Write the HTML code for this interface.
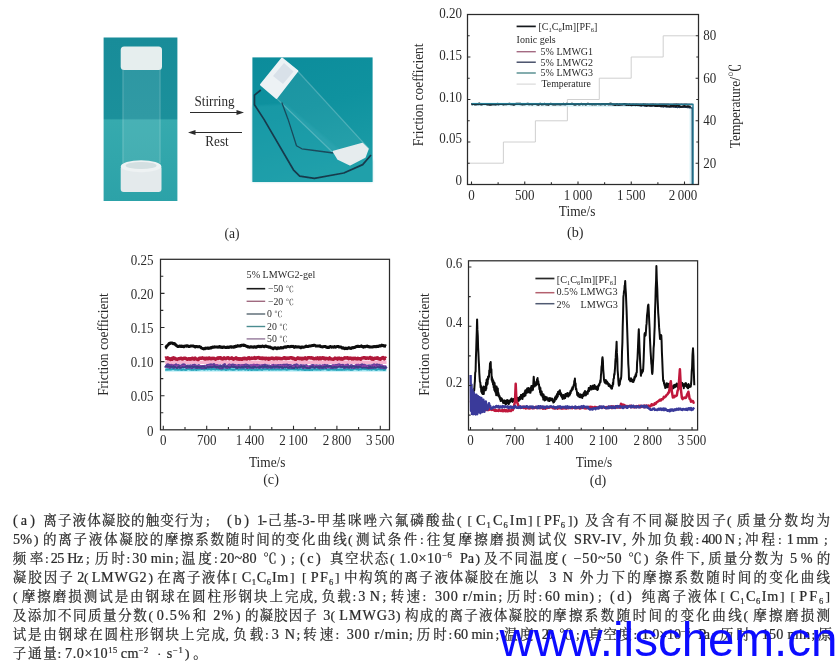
<!DOCTYPE html>
<html lang="zh"><head><meta charset="utf-8"><title>figure</title>
<style>html,body{margin:0;padding:0;background:#fff}svg{display:block;filter:blur(0.35px)}</style></head>
<body>
<svg width="840" height="666" viewBox="0 0 840 666" font-family='"Liberation Serif","Noto Serif CJK SC",serif'>
<defs>
<linearGradient id="g1" x1="0" y1="0" x2="0" y2="1"><stop offset="0" stop-color="#188c99"/><stop offset="0.495" stop-color="#1b909b"/><stop offset="0.505" stop-color="#36aaae"/><stop offset="1" stop-color="#2ca2a8"/></linearGradient>
<linearGradient id="g2" x1="0" y1="0" x2="0.3" y2="1"><stop offset="0" stop-color="#0c8c9b"/><stop offset="0.5" stop-color="#0f929f"/><stop offset="1" stop-color="#1b9ca6"/></linearGradient>
<filter id="b1"><feGaussianBlur stdDeviation="1.2"/></filter>
<filter id="b2"><feGaussianBlur stdDeviation="0.7"/></filter>
<filter id="b3"><feGaussianBlur stdDeviation="0.4"/></filter>
</defs>
<rect width="840" height="666" fill="#fff"/>
<g id="photoA">
<rect x="103.6" y="37.5" width="73.8" height="163.5" fill="url(#g1)"/>
<rect x="122.5" y="68" width="38" height="98" fill="#ffffff" opacity="0.09" filter="url(#b2)"/>
<rect x="122" y="68" width="2" height="95" fill="#ffffff" opacity="0.10"/>
<rect x="159" y="68" width="2" height="95" fill="#ffffff" opacity="0.10"/>
<rect x="120.7" y="46.5" width="41.3" height="23.5" rx="3.5" fill="#e6eeee" filter="url(#b2)"/>
<rect x="120.7" y="165.5" width="40.8" height="26.5" rx="3" fill="#e4eaec" filter="url(#b2)"/>
<ellipse cx="141.1" cy="166.2" rx="20.2" ry="6" fill="#eef2f3" filter="url(#b2)"/>
<ellipse cx="141.1" cy="165.5" rx="15.5" ry="3.6" fill="#d3dfe1" filter="url(#b2)"/>
</g>
<text transform="translate(214.5,106) scale(0.92,1)" font-size="14.3" text-anchor="middle" fill="#2a2a2a" >Stirring</text>
<line x1="190" y1="112.5" x2="238" y2="112.5" stroke="#2b2b2b" stroke-width="1"/>
<path d="M244,112.5 L236.5,110 L236.5,115 Z" fill="#2b2b2b"/>
<line x1="194" y1="132.5" x2="242" y2="132.5" stroke="#2b2b2b" stroke-width="1"/>
<path d="M188,132.5 L195.5,130 L195.5,135 Z" fill="#2b2b2b"/>
<text transform="translate(217,146) scale(0.92,1)" font-size="14.3" text-anchor="middle" fill="#2a2a2a" >Rest</text>
<g id="photoB">
<rect x="252.4" y="57.4" width="120.2" height="124.6" fill="url(#g2)"/>
<path d="M252.4,106 L285,104 L340,150 L372.6,160 L372.6,182 L252.4,182 Z" fill="#2aa8b4" opacity="0.35" filter="url(#b1)"/>
<path d="M276.5,98.4 L297.6,71 L369,148.8 L333.3,153 Z" fill="#ffffff" opacity="0.06"/>
<path d="M276.5,98.4 L333.3,153" stroke="#ffffff" stroke-width="1.2" opacity="0.22" fill="none"/>
<path d="M297.6,71 L369,148.8" stroke="#ffffff" stroke-width="1.2" opacity="0.22" fill="none"/>
<path d="M260.8,90 L254.5,95.2 L254.5,104.7 L264,119.4 L293.4,169.8 L299.7,176.2 L314.4,178.3 L343.8,173 L362.7,164.6 L371,155" stroke="#173a4c" stroke-width="1.7" fill="none" stroke-linejoin="round" filter="url(#b3)"/>
<path d="M281.8,102.6 L288.1,119.4 L296.5,145.7 L301.8,148.8 L314.4,150.5 L333.3,153" stroke="#1a4a5c" stroke-width="1.3" fill="none" stroke-linejoin="round" filter="url(#b3)"/>
<path d="M282,58.6 L297.4,71 L276.5,98 L261,84.7 Z" fill="#edf2f5" stroke="#edf2f5" stroke-width="2" stroke-linejoin="round" filter="url(#b2)"/>
<path d="M284,63 L293.5,71.5 L283,84 L273,76 Z" fill="#cdd6e2" opacity="0.6" filter="url(#b2)"/>
<path d="M333.5,151.5 L362.5,143.5 L368,149 L365,157 L350,164.8 L338,159 Z" fill="#e6ecee" stroke="#e6ecee" stroke-width="1.5" stroke-linejoin="round" filter="url(#b2)"/>
</g>
<text x="232" y="238" font-size="13.6" text-anchor="middle" fill="#2a2a2a" >(a)</text>
<g id="chartB">
<path d="M467.5,163.2 L503.4,163.2 L503.4,142.0 L535.4,142.0 L535.4,120.8 L567.4,120.8 L567.4,99.5 L599.3,99.5 L599.3,78.2 L631.2,78.2 L631.2,57.0 L663.2,57.0 L663.2,35.8 L695.0,35.8" fill="none" stroke="#cbcbcb" stroke-width="0.9" stroke-linejoin="round" />
<path d="M471.5,104.2 L691.4,105.5 L691.4,184.5" fill="none" stroke="#c6edf5" stroke-width="3.6" stroke-linejoin="round" opacity="0.75"/>
<path d="M471.5,103.8 L472.3,103.7 L473.1,103.9 L473.9,103.7 L474.7,103.8 L475.5,103.8 L476.3,103.7 L477.1,103.8 L477.9,103.7 L478.7,103.8 L479.5,103.7 L480.3,103.7 L481.1,103.8 L481.9,104.0 L482.7,103.8 L483.5,103.8 L484.3,103.9 L485.1,104.1 L485.9,104.1 L486.7,104.0 L487.5,104.1 L488.3,103.9 L489.1,104.1 L489.9,103.9 L490.7,103.8 L491.5,103.7 L492.3,103.8 L493.1,104.0 L493.9,103.9 L494.7,103.9 L495.5,104.0 L496.3,103.9 L497.1,104.0 L497.9,103.8 L498.7,103.7 L499.5,103.7 L500.3,103.9 L501.1,103.9 L501.9,103.9 L502.7,104.0 L503.5,104.0 L504.3,103.9 L505.1,104.1 L505.9,104.1 L506.7,103.9 L507.5,104.0 L508.3,104.0 L509.1,104.2 L509.9,104.2 L510.7,104.0 L511.5,104.2 L512.3,103.9 L513.1,103.9 L513.9,104.1 L514.7,103.9 L515.5,104.0 L516.3,103.8 L517.1,104.0 L517.9,104.1 L518.7,104.1 L519.5,104.2 L520.3,104.0 L521.1,104.1 L521.9,104.1 L522.7,104.1 L523.5,104.0 L524.3,104.2 L525.1,104.3 L525.9,104.1 L526.7,104.2 L527.5,103.9 L528.3,104.1 L529.1,104.1 L529.9,104.3 L530.7,104.3 L531.5,104.1 L532.3,104.0 L533.1,104.1 L533.9,103.9 L534.7,103.9 L535.5,103.9 L536.3,103.8 L537.1,103.8 L537.9,104.0 L538.7,103.9 L539.5,103.9 L540.3,103.9 L541.1,104.1 L541.9,103.9 L542.7,104.0 L543.5,104.0 L544.3,104.2 L545.1,104.3 L545.9,104.3 L546.7,104.1 L547.5,104.1 L548.3,104.0 L549.1,104.2 L549.9,104.3 L550.7,104.1 L551.5,103.9 L552.3,103.9 L553.1,103.9 L553.9,104.0 L554.7,104.1 L555.5,104.0 L556.3,103.8 L557.1,103.9 L557.9,104.0 L558.7,104.1 L559.5,104.3 L560.3,104.3 L561.1,104.2 L561.9,104.2 L562.7,104.2 L563.5,104.0 L564.3,104.2 L565.1,104.3 L565.9,104.3 L566.7,104.3 L567.5,104.2 L568.3,104.1 L569.1,104.0 L569.9,104.1 L570.7,103.9 L571.5,103.9 L572.3,103.9 L573.1,103.9 L573.9,103.9 L574.7,103.9 L575.5,103.8 L576.3,103.8 L577.1,103.8 L577.9,103.9 L578.7,103.8 L579.5,104.1 L580.3,104.2 L581.1,104.0 L581.9,104.0 L582.7,104.0 L583.5,104.0 L584.3,103.9 L585.1,104.2 L585.9,104.4 L586.7,104.2 L587.5,104.2 L588.3,104.0 L589.1,103.9 L589.9,104.0 L590.7,104.0 L591.5,104.2 L592.3,104.0 L593.1,103.9 L593.9,104.2 L594.7,104.2 L595.5,104.0 L596.3,104.1 L597.1,104.0 L597.9,104.1 L598.7,104.3 L599.5,104.4 L600.3,104.4 L601.1,104.2 L601.9,104.1 L602.7,104.0 L603.5,104.2 L604.3,104.2 L605.1,104.3 L605.9,104.2 L606.7,104.1 L607.5,104.3 L608.3,104.4 L609.1,104.5 L609.9,104.4 L610.7,104.5 L611.5,104.4 L612.3,104.2 L613.1,104.2 L613.9,104.2 L614.7,104.0 L615.5,103.9 L616.3,104.0 L617.1,104.0 L617.9,104.2 L618.7,104.4 L619.5,104.3 L620.3,104.4 L621.1,104.5 L621.9,104.6 L622.7,104.3 L623.5,104.2 L624.3,104.1 L625.1,104.0 L625.9,104.0 L626.7,104.2 L627.5,104.4 L628.3,104.4 L629.1,104.3 L629.9,104.3 L630.7,104.4 L631.5,104.2 L632.3,104.3 L633.1,104.4 L633.9,104.4 L634.7,104.4 L635.5,104.3 L636.3,104.2 L637.1,104.3 L637.9,104.2 L638.7,104.4 L639.5,104.5 L640.3,104.3 L641.1,104.3 L641.9,104.4 L642.7,104.4 L643.5,104.2 L644.3,104.1 L645.1,104.0 L645.9,104.3 L646.7,104.4 L647.5,104.2 L648.3,104.4 L649.1,104.5 L649.9,104.5 L650.7,104.3 L651.5,104.3 L652.3,104.2 L653.1,104.0 L653.9,104.3 L654.7,104.4 L655.5,104.3 L656.3,104.5 L657.1,104.4 L657.9,104.5 L658.7,104.5 L659.5,104.3 L660.3,104.2 L661.1,104.2 L661.9,104.1 L662.7,104.3 L663.5,104.2 L664.3,104.2 L665.1,104.1 L665.9,104.4 L666.7,104.3 L667.5,104.3 L668.3,104.3 L669.1,104.5 L669.9,104.4 L670.7,104.5 L671.5,104.4 L672.3,104.4 L673.1,104.4 L673.9,104.2 L674.7,104.2 L675.5,104.1 L676.3,104.0 L677.1,104.3 L677.9,104.2 L678.7,104.3 L679.5,104.4 L680.3,104.4 L681.1,104.3 L681.9,104.3 L682.7,104.4 L683.5,104.5 L684.3,104.2 L685.1,104.3 L685.9,104.2 L686.7,104.2 L687.5,104.4 L688.3,104.4 L689.1,104.4 L689.9,104.5 L690.7,104.6 L691.5,104.5 L692.3,104.5" fill="none" stroke="#8a2a3a" stroke-width="1.4" stroke-linejoin="round" />
<path d="M471.5,104.2 L472.3,104.2 L473.1,104.3 L473.9,104.2 L474.7,104.2 L475.5,104.2 L476.3,104.4 L477.1,104.4 L477.9,104.5 L478.7,104.6 L479.5,104.3 L480.3,104.2 L481.1,104.5 L481.9,104.5 L482.7,104.1 L483.5,103.9 L484.3,104.0 L485.1,103.8 L485.9,103.9 L486.7,103.8 L487.5,104.1 L488.3,104.3 L489.1,104.5 L489.9,104.1 L490.7,104.3 L491.5,104.3 L492.3,104.0 L493.1,104.3 L493.9,104.5 L494.7,104.2 L495.5,104.5 L496.3,104.3 L497.1,104.2 L497.9,104.5 L498.7,104.5 L499.5,104.1 L500.3,104.1 L501.1,104.2 L501.9,104.1 L502.7,103.9 L503.5,103.9 L504.3,104.2 L505.1,103.9 L505.9,104.1 L506.7,104.1 L507.5,103.8 L508.3,103.9 L509.1,104.1 L509.9,104.2 L510.7,103.9 L511.5,104.3 L512.3,104.4 L513.1,104.6 L513.9,104.1 L514.7,104.0 L515.5,103.8 L516.3,104.2 L517.1,104.0 L517.9,103.9 L518.7,104.0 L519.5,104.3 L520.3,104.4 L521.1,104.2 L521.9,104.0 L522.7,104.3 L523.5,104.3 L524.3,104.4 L525.1,104.0 L525.9,103.8 L526.7,104.1 L527.5,104.1 L528.3,103.9 L529.1,104.3 L529.9,104.3 L530.7,104.4 L531.5,104.1 L532.3,104.3 L533.1,104.0 L533.9,104.3 L534.7,104.2 L535.5,104.1 L536.3,104.2 L537.1,104.4 L537.9,104.2 L538.7,103.9 L539.5,104.1 L540.3,104.0 L541.1,103.8 L541.9,103.8 L542.7,103.7 L543.5,103.8 L544.3,103.9 L545.1,103.9 L545.9,104.2 L546.7,104.1 L547.5,104.1 L548.3,104.0 L549.1,104.0 L549.9,103.8 L550.7,103.8 L551.5,103.7 L552.3,104.1 L553.1,104.2 L553.9,104.0 L554.7,104.1 L555.5,104.4 L556.3,104.0 L557.1,104.3 L557.9,104.2 L558.7,104.2 L559.5,104.4 L560.3,104.2 L561.1,104.2 L561.9,104.3 L562.7,104.5 L563.5,104.3 L564.3,104.4 L565.1,104.4 L565.9,104.4 L566.7,104.2 L567.5,104.1 L568.3,103.9 L569.1,103.8 L569.9,103.7 L570.7,104.1 L571.5,104.0 L572.3,103.9 L573.1,103.8 L573.9,104.2 L574.7,104.4 L575.5,104.4 L576.3,104.2 L577.1,104.0 L577.9,104.0 L578.7,104.0 L579.5,103.9 L580.3,104.0 L581.1,103.9 L581.9,104.3 L582.7,104.5 L583.5,104.4 L584.3,104.1 L585.1,104.4 L585.9,104.2 L586.7,104.1 L587.5,103.8 L588.3,103.9 L589.1,104.0 L589.9,104.1 L590.7,104.0 L591.5,104.1 L592.3,103.8 L593.1,103.9 L593.9,103.8 L594.7,103.9 L595.5,103.8 L596.3,103.7 L597.1,103.8 L597.9,103.8 L598.7,104.1 L599.5,104.1 L600.3,104.3 L601.1,104.3 L601.9,104.4 L602.7,104.5 L603.5,104.3 L604.3,104.1 L605.1,104.4 L605.9,104.1 L606.7,104.3 L607.5,104.3 L608.3,104.0 L609.1,104.3 L609.9,104.5 L610.7,104.4 L611.5,104.5 L612.3,104.6 L613.1,104.3 L613.9,104.3 L614.7,104.4 L615.5,104.6 L616.3,104.7 L617.1,104.8 L617.9,104.7 L618.7,104.9 L619.5,104.9 L620.3,104.9 L621.1,104.6 L621.9,104.4 L622.7,104.4 L623.5,104.5 L624.3,104.4 L625.1,104.9 L625.9,104.9 L626.7,105.0 L627.5,105.1 L628.3,105.1 L629.1,105.1 L629.9,104.8 L630.7,105.1 L631.5,105.3 L632.3,105.2 L633.1,105.3 L633.9,105.3 L634.7,105.1 L635.5,105.3 L636.3,105.2 L637.1,105.0 L637.9,105.1 L638.7,105.4 L639.5,105.3 L640.3,105.6 L641.1,105.8 L641.9,105.7 L642.7,105.6 L643.5,105.6 L644.3,105.8 L645.1,105.9 L645.9,105.9 L646.7,106.0 L647.5,105.6 L648.3,105.6 L649.1,105.6 L649.9,105.9 L650.7,105.8 L651.5,106.0 L652.3,105.7 L653.1,105.6 L653.9,105.7 L654.7,106.1 L655.5,106.2 L656.3,106.3 L657.1,106.2 L657.9,106.2 L658.7,106.3 L659.5,106.3 L660.3,106.1 L661.1,106.5 L661.9,106.3 L662.7,106.7 L663.5,106.9 L664.3,106.4 L665.1,106.5 L665.9,106.8 L666.7,107.0 L667.5,106.8 L668.3,106.7 L669.1,106.5 L669.9,107.0 L670.7,106.7 L671.5,106.9 L672.3,106.7 L673.1,106.8 L673.9,107.2 L674.7,106.9 L675.5,107.2 L676.3,107.1 L677.1,107.4 L677.9,107.4 L678.7,107.1 L679.5,107.4 L680.3,107.3 L681.1,107.0 L681.9,106.9 L682.7,107.1 L683.5,107.2 L684.3,107.2 L685.1,107.1 L685.9,107.2 L686.7,107.3 L687.5,107.6 L688.3,107.3 L689.1,107.6 L689.9,107.9 L690.7,107.6 L691.5,107.9 L692.3,108.0 L692.4,184.5" fill="none" stroke="#27405f" stroke-width="1.5" stroke-linejoin="round" />
<path d="M471.5,104.5 L472.3,104.2 L473.1,104.1 L473.9,104.0 L474.7,104.5 L475.5,104.4 L476.3,104.2 L477.1,104.1 L477.9,104.0 L478.7,103.7 L479.5,103.6 L480.3,104.2 L481.1,104.0 L481.9,104.4 L482.7,104.1 L483.5,104.0 L484.3,104.1 L485.1,103.9 L485.9,103.9 L486.7,104.4 L487.5,104.6 L488.3,104.6 L489.1,104.5 L489.9,104.7 L490.7,104.8 L491.5,104.5 L492.3,104.5 L493.1,104.0 L493.9,104.3 L494.7,104.2 L495.5,104.4 L496.3,104.4 L497.1,104.1 L497.9,103.8 L498.7,104.3 L499.5,103.9 L500.3,104.0 L501.1,104.0 L501.9,103.9 L502.7,104.2 L503.5,104.6 L504.3,104.2 L505.1,104.3 L505.9,104.1 L506.7,104.2 L507.5,104.1 L508.3,103.9 L509.1,103.8 L509.9,103.7 L510.7,104.3 L511.5,104.2 L512.3,104.0 L513.1,104.4 L513.9,104.7 L514.7,104.4 L515.5,104.0 L516.3,103.8 L517.1,103.7 L517.9,103.8 L518.7,103.7 L519.5,103.7 L520.3,103.7 L521.1,104.0 L521.9,104.4 L522.7,104.5 L523.5,104.3 L524.3,104.2 L525.1,104.2 L525.9,104.1 L526.7,104.0 L527.5,103.7 L528.3,103.8 L529.1,104.4 L529.9,104.0 L530.7,104.1 L531.5,104.2 L532.3,104.5 L533.1,104.1 L533.9,104.0 L534.7,103.9 L535.5,103.9 L536.3,104.0 L537.1,104.5 L537.9,104.6 L538.7,104.7 L539.5,104.0 L540.3,103.7 L541.1,104.1 L541.9,104.5 L542.7,104.3 L543.5,104.3 L544.3,103.8 L545.1,103.9 L545.9,104.4 L546.7,104.5 L547.5,104.6 L548.3,104.8 L549.1,104.3 L549.9,103.9 L550.7,103.8 L551.5,104.0 L552.3,104.2 L553.1,104.6 L553.9,104.5 L554.7,104.5 L555.5,104.5 L556.3,104.3 L557.1,104.3 L557.9,103.9 L558.7,104.2 L559.5,104.0 L560.3,104.4 L561.1,104.4 L561.9,104.1 L562.7,103.9 L563.5,103.8 L564.3,104.1 L565.1,104.3 L565.9,103.9 L566.7,103.7 L567.5,104.0 L568.3,104.1 L569.1,104.1 L569.9,103.9 L570.7,104.1 L571.5,103.8 L572.3,103.8 L573.1,104.0 L573.9,104.4 L574.7,104.4 L575.5,104.6 L576.3,104.4 L577.1,104.1 L577.9,103.9 L578.7,104.4 L579.5,104.5 L580.3,104.2 L581.1,103.8 L581.9,104.0 L582.7,104.2 L583.5,104.1 L584.3,104.0 L585.1,104.2 L585.9,104.5 L586.7,104.1 L587.5,103.8 L588.3,103.8 L589.1,103.9 L589.9,104.2 L590.7,103.9 L591.5,104.3 L592.3,104.4 L593.1,104.3 L593.9,104.0 L594.7,104.5 L595.5,104.2 L596.3,104.4 L597.1,104.1 L597.9,103.9 L598.7,104.2 L599.5,104.0 L600.3,104.5 L601.1,104.3 L601.9,104.0 L602.7,103.9 L603.5,104.0 L604.3,104.2 L605.1,104.5 L605.9,104.1 L606.7,104.0 L607.5,103.9 L608.3,104.4 L609.1,104.0 L609.9,103.7 L610.7,103.6 L611.5,103.8 L612.3,104.4 L613.1,104.6 L613.9,104.7 L614.7,104.9 L615.5,105.0 L616.3,104.5 L617.1,104.2 L617.9,104.7 L618.7,104.8 L619.5,104.3 L620.3,104.5 L621.1,104.4 L621.9,104.4 L622.7,104.4 L623.5,104.2 L624.3,104.0 L625.1,104.2 L625.9,104.3 L626.7,104.9 L627.5,104.5 L628.3,105.0 L629.1,104.6 L629.9,104.6 L630.7,105.0 L631.5,105.2 L632.3,105.0 L633.1,104.6 L633.9,104.7 L634.7,104.7 L635.5,105.2 L636.3,104.8 L637.1,104.8 L637.9,105.2 L638.7,104.8 L639.5,104.9 L640.3,105.2 L641.1,105.4 L641.9,104.9 L642.7,104.7 L643.5,104.6 L644.3,105.2 L645.1,105.1 L645.9,105.4 L646.7,105.7 L647.5,105.4 L648.3,105.2 L649.1,105.6 L649.9,105.6 L650.7,105.3 L651.5,105.6 L652.3,105.4 L653.1,105.3 L653.9,105.0 L654.7,105.5 L655.5,105.9 L656.3,105.8 L657.1,106.1 L657.9,105.5 L658.7,105.4 L659.5,105.5 L660.3,106.0 L661.1,106.2 L661.9,105.9 L662.7,105.6 L663.5,105.7 L664.3,105.7 L665.1,106.1 L665.9,105.8 L666.7,106.1 L667.5,106.2 L668.3,106.3 L669.1,106.4 L669.9,106.3 L670.7,106.0 L671.5,105.9 L672.3,105.9 L673.1,106.2 L673.9,105.8 L674.7,105.7 L675.5,106.2 L676.3,106.0 L677.1,105.7 L677.9,105.6 L678.7,106.0 L679.5,106.0 L680.3,106.5 L681.1,106.7 L681.9,106.9 L682.7,106.5 L683.5,106.1 L684.3,105.9 L685.1,106.2 L685.9,106.5 L686.7,106.5 L687.5,106.3 L688.3,106.3 L689.1,106.6 L689.9,106.7 L690.7,106.9" fill="none" stroke="#15181c" stroke-width="2.0" stroke-linejoin="round" />
<path d="M471.5,103.6 L693.0,104.2 L693.0,184.5" fill="none" stroke="#237a92" stroke-width="1.4" stroke-linejoin="round" />
<rect x="467.5" y="14.5" width="231.0" height="170.0" fill="none" stroke="#2b2b2b" stroke-width="1.25"/>
<path d="M471.50,184.5V181.60M524.75,184.5V181.60M578.00,184.5V181.60M631.25,184.5V181.60M684.50,184.5V181.60M498.12,184.5V182.30M551.38,184.5V182.30M604.62,184.5V182.30M657.88,184.5V182.30M467.5,142.00H470.40M467.5,99.50H470.40M467.5,57.00H470.40M467.5,14.50H470.40M467.5,163.25H469.70M467.5,120.75H469.70M467.5,78.25H469.70M467.5,35.75H469.70M698.5,163.25H695.60M698.5,120.75H695.60M698.5,78.25H695.60M698.5,35.75H695.60M698.5,142.00H696.30M698.5,99.50H696.30M698.5,57.00H696.30" stroke="#2b2b2b" stroke-width="1.1" fill="none"/>
<text transform="translate(462,184.9) scale(0.93,1)" font-size="14.0" text-anchor="end" fill="#2a2a2a" >0</text>
<text transform="translate(462,143.2) scale(0.93,1)" font-size="14.0" text-anchor="end" fill="#2a2a2a" >0.05</text>
<text transform="translate(462,101.5) scale(0.93,1)" font-size="14.0" text-anchor="end" fill="#2a2a2a" >0.10</text>
<text transform="translate(462,59.8) scale(0.93,1)" font-size="14.0" text-anchor="end" fill="#2a2a2a" >0.15</text>
<text transform="translate(462,18.1) scale(0.93,1)" font-size="14.0" text-anchor="end" fill="#2a2a2a" >0.20</text>
<text transform="translate(471.5,199.8) scale(0.93,1)" font-size="14.0" text-anchor="middle" fill="#2a2a2a" word-spacing="-0.8">0</text>
<text transform="translate(524.75,199.8) scale(0.93,1)" font-size="14.0" text-anchor="middle" fill="#2a2a2a" word-spacing="-0.8">500</text>
<text transform="translate(578.0,199.8) scale(0.93,1)" font-size="14.0" text-anchor="middle" fill="#2a2a2a" word-spacing="-0.8">1 000</text>
<text transform="translate(631.25,199.8) scale(0.93,1)" font-size="14.0" text-anchor="middle" fill="#2a2a2a" word-spacing="-0.8">1 500</text>
<text transform="translate(683.0,199.8) scale(0.93,1)" font-size="14.0" text-anchor="middle" fill="#2a2a2a" word-spacing="-0.8">2 000</text>
<text transform="translate(703.2,167.85) scale(0.93,1)" font-size="14.0" text-anchor="start" fill="#2a2a2a" >20</text>
<text transform="translate(703.2,125.35) scale(0.93,1)" font-size="14.0" text-anchor="start" fill="#2a2a2a" >40</text>
<text transform="translate(703.2,82.85) scale(0.93,1)" font-size="14.0" text-anchor="start" fill="#2a2a2a" >60</text>
<text transform="translate(703.2,40.35) scale(0.93,1)" font-size="14.0" text-anchor="start" fill="#2a2a2a" >80</text>
<text transform="translate(423,94.8) rotate(-90) scale(0.93,1)" font-size="14.4" text-anchor="middle" fill="#2a2a2a">Friction coefficient</text>
<text transform="translate(740,106) rotate(-90) scale(0.93,1)" font-size="14.4" text-anchor="middle" fill="#2a2a2a">Temperature/℃</text>
<text transform="translate(577.1,216.3) scale(0.92,1)" font-size="14.5" text-anchor="middle" fill="#2a2a2a" >Time/s</text>
<text x="575.2" y="237" font-size="14.2" text-anchor="middle" fill="#2a2a2a" >(b)</text>
<line x1="516.6" y1="26.4" x2="535.8" y2="26.4" stroke="#15181c" stroke-width="1.7"/>
<text x="538.5" y="29.7" font-size="10" text-anchor="start" fill="#2a2a2a" >[C<tspan font-size="6.5" dy="2">1</tspan><tspan dy="-2" font-size="0.1"> </tspan>C<tspan font-size="6.5" dy="2">6</tspan><tspan dy="-2" font-size="0.1"> </tspan>Im][PF<tspan font-size="6.5" dy="2">6</tspan><tspan dy="-2" font-size="0.1"> </tspan>]</text>
<text x="516.6" y="42.6" font-size="10" text-anchor="start" fill="#2a2a2a" >Ionic gels</text>
<line x1="516.6" y1="51.7" x2="535.8" y2="51.7" stroke="#a46a82" stroke-width="1.4"/>
<text x="540.6" y="55.3" font-size="10" text-anchor="start" fill="#2a2a2a" >5% LMWG1</text>
<line x1="516.6" y1="62.2" x2="535.8" y2="62.2" stroke="#3c4560" stroke-width="1.4"/>
<text x="540.6" y="65.6" font-size="10" text-anchor="start" fill="#2a2a2a" >5% LMWG2</text>
<line x1="516.6" y1="73" x2="535.8" y2="73" stroke="#4f8a8c" stroke-width="1.4"/>
<text x="540.6" y="76.3" font-size="10" text-anchor="start" fill="#2a2a2a" >5% LMWG3</text>
<line x1="516.6" y1="84.1" x2="535.8" y2="84.1" stroke="#d2d2d2" stroke-width="1"/>
<text x="541.5" y="86.7" font-size="9.8" text-anchor="start" fill="#2a2a2a" >Temperature</text>
</g>
<g id="chartC">
<path d="M165.2,369.8 L386.5,369.8" fill="none" stroke="#9fe6f2" stroke-width="3.5" stroke-linejoin="round" />
<path d="M165.2,369.8 L166.0,369.8 L166.8,369.2 L167.6,369.7 L168.4,369.3 L169.2,369.4 L170.0,369.3 L170.8,369.6 L171.6,369.2 L172.4,369.1 L173.2,369.0 L174.0,368.9 L174.8,369.5 L175.6,369.6 L176.4,369.3 L177.2,369.3 L178.0,369.8 L178.8,369.6 L179.6,369.3 L180.4,369.7 L181.2,369.7 L182.0,370.0 L182.8,369.3 L183.6,369.4 L184.4,369.7 L185.2,369.9 L186.0,370.1 L186.8,369.3 L187.6,369.2 L188.4,368.9 L189.2,368.9 L190.0,369.6 L190.8,369.6 L191.6,369.9 L192.4,369.6 L193.2,369.9 L194.0,369.6 L194.8,369.3 L195.6,369.6 L196.4,370.0 L197.2,369.3 L198.0,369.5 L198.8,369.6 L199.6,369.2 L200.4,369.2 L201.2,368.9 L202.0,368.9 L202.8,368.9 L203.6,369.3 L204.4,369.5 L205.2,369.2 L206.0,368.8 L206.8,368.9 L207.6,369.4 L208.4,369.1 L209.2,369.1 L210.0,368.9 L210.8,369.5 L211.6,369.5 L212.4,369.0 L213.2,368.8 L214.0,369.0 L214.8,369.3 L215.6,369.5 L216.4,369.0 L217.2,368.9 L218.0,369.4 L218.8,369.3 L219.6,369.1 L220.4,369.1 L221.2,369.7 L222.0,369.4 L222.8,369.5 L223.6,369.3 L224.4,369.3 L225.2,369.7 L226.0,370.1 L226.8,369.6 L227.6,369.2 L228.4,369.5 L229.2,369.2 L230.0,368.8 L230.8,369.5 L231.6,369.4 L232.4,369.7 L233.2,369.5 L234.0,369.8 L234.8,369.6 L235.6,369.2 L236.4,368.8 L237.2,369.2 L238.0,369.4 L238.8,369.8 L239.6,369.2 L240.4,369.4 L241.2,369.3 L242.0,369.4 L242.8,369.0 L243.6,369.0 L244.4,369.2 L245.2,369.8 L246.0,369.2 L246.8,369.3 L247.6,369.7 L248.4,370.0 L249.2,369.4 L250.0,369.0 L250.8,369.7 L251.6,370.0 L252.4,369.7 L253.2,369.1 L254.0,369.7 L254.8,369.5 L255.6,369.8 L256.4,369.8 L257.2,369.9 L258.0,369.3 L258.8,369.7 L259.6,369.3 L260.4,369.3 L261.2,369.7 L262.0,369.9 L262.8,369.3 L263.6,369.1 L264.4,369.2 L265.2,369.3 L266.0,369.3 L266.8,369.0 L267.6,368.9 L268.4,369.4 L269.2,369.8 L270.0,369.2 L270.8,369.4 L271.6,369.6 L272.4,369.1 L273.2,369.6 L274.0,369.1 L274.8,369.4 L275.6,369.4 L276.4,369.6 L277.2,369.3 L278.0,369.3 L278.8,369.4 L279.6,369.4 L280.4,369.5 L281.2,369.4 L282.0,369.4 L282.8,368.9 L283.6,369.3 L284.4,369.3 L285.2,369.1 L286.0,369.5 L286.8,369.8 L287.6,369.6 L288.4,369.2 L289.2,369.3 L290.0,369.0 L290.8,368.8 L291.6,369.1 L292.4,368.8 L293.2,369.1 L294.0,369.3 L294.8,368.9 L295.6,369.3 L296.4,368.9 L297.2,369.4 L298.0,369.7 L298.8,369.6 L299.6,369.1 L300.4,369.2 L301.2,369.2 L302.0,369.8 L302.8,369.2 L303.6,369.7 L304.4,370.1 L305.2,370.0 L306.0,370.0 L306.8,369.4 L307.6,369.9 L308.4,369.7 L309.2,370.0 L310.0,370.1 L310.8,369.4 L311.6,369.7 L312.4,370.0 L313.2,369.3 L314.0,369.2 L314.8,369.6 L315.6,369.2 L316.4,369.7 L317.2,369.3 L318.0,369.7 L318.8,369.2 L319.6,369.3 L320.4,369.8 L321.2,369.3 L322.0,369.1 L322.8,369.3 L323.6,369.2 L324.4,368.8 L325.2,368.8 L326.0,368.8 L326.8,369.5 L327.6,369.7 L328.4,369.9 L329.2,369.4 L330.0,369.7 L330.8,369.2 L331.6,369.3 L332.4,369.5 L333.2,369.3 L334.0,369.7 L334.8,369.6 L335.6,369.6 L336.4,369.9 L337.2,369.3 L338.0,369.8 L338.8,369.8 L339.6,369.5 L340.4,369.8 L341.2,369.4 L342.0,369.9 L342.8,369.7 L343.6,369.4 L344.4,369.7 L345.2,369.5 L346.0,369.1 L346.8,369.5 L347.6,369.0 L348.4,369.5 L349.2,369.2 L350.0,369.5 L350.8,369.9 L351.6,369.8 L352.4,369.8 L353.2,369.4 L354.0,368.9 L354.8,368.7 L355.6,368.7 L356.4,369.2 L357.2,369.2 L358.0,369.3 L358.8,369.8 L359.6,369.2 L360.4,369.1 L361.2,369.4 L362.0,368.9 L362.8,368.7 L363.6,368.9 L364.4,368.8 L365.2,369.0 L366.0,368.9 L366.8,369.3 L367.6,369.4 L368.4,369.1 L369.2,369.4 L370.0,369.4 L370.8,369.0 L371.6,369.7 L372.4,369.3 L373.2,369.0 L374.0,368.8 L374.8,369.3 L375.6,369.7 L376.4,369.9 L377.2,369.5 L378.0,369.2 L378.8,368.8 L379.6,369.3 L380.4,369.4 L381.2,369.3 L382.0,369.5 L382.8,369.4 L383.6,369.9 L384.4,369.9 L385.2,369.4 L386.0,369.8" fill="none" stroke="#27a3b8" stroke-width="2" stroke-linejoin="round" />
<path d="M165.2,362.3 L386.5,362.3" fill="none" stroke="#f7b3cf" stroke-width="3.5" stroke-linejoin="round" />
<path d="M165.2,365.5 L165.8,366.0 L166.4,366.0 L167.0,365.7 L167.6,365.2 L168.2,366.3 L168.8,365.4 L169.4,366.0 L170.0,367.0 L170.6,366.0 L171.2,365.6 L171.8,366.2 L172.4,366.3 L173.0,366.6 L173.6,367.0 L174.2,366.1 L174.8,365.9 L175.4,365.8 L176.0,365.2 L176.6,366.5 L177.2,366.9 L177.8,367.0 L178.4,365.8 L179.0,366.7 L179.6,367.0 L180.2,366.6 L180.8,366.9 L181.4,366.5 L182.0,366.0 L182.6,365.4 L183.2,365.4 L183.8,365.1 L184.4,365.4 L185.0,366.3 L185.6,366.7 L186.2,367.1 L186.8,367.1 L187.4,366.3 L188.0,366.4 L188.6,366.3 L189.2,366.8 L189.8,366.6 L190.4,366.1 L191.0,366.5 L191.6,367.3 L192.2,366.3 L192.8,367.0 L193.4,365.8 L194.0,365.7 L194.6,365.5 L195.2,366.4 L195.8,367.2 L196.4,367.2 L197.0,366.5 L197.6,367.1 L198.2,366.4 L198.8,365.9 L199.4,366.9 L200.0,366.8 L200.6,366.9 L201.2,366.9 L201.8,367.5 L202.4,366.9 L203.0,367.2 L203.6,367.1 L204.2,367.4 L204.8,366.8 L205.4,367.0 L206.0,366.8 L206.6,366.2 L207.2,365.8 L207.8,366.3 L208.4,365.6 L209.0,366.7 L209.6,365.9 L210.2,365.3 L210.8,365.1 L211.4,366.5 L212.0,366.1 L212.6,365.6 L213.2,365.1 L213.8,364.9 L214.4,366.0 L215.0,366.4 L215.6,366.7 L216.2,367.0 L216.8,365.9 L217.4,366.3 L218.0,366.1 L218.6,366.8 L219.2,367.1 L219.8,367.5 L220.4,366.1 L221.0,366.9 L221.6,367.4 L222.2,367.7 L222.8,366.3 L223.4,365.8 L224.0,365.4 L224.6,365.0 L225.2,366.3 L225.8,366.9 L226.4,366.9 L227.0,367.2 L227.6,367.0 L228.2,366.3 L228.8,365.6 L229.4,365.3 L230.0,366.3 L230.6,365.8 L231.2,365.7 L231.8,365.9 L232.4,365.3 L233.0,365.4 L233.6,365.5 L234.2,366.3 L234.8,366.1 L235.4,365.9 L236.0,367.0 L236.6,366.7 L237.2,367.1 L237.8,367.0 L238.4,365.8 L239.0,365.9 L239.6,366.0 L240.2,366.7 L240.8,366.2 L241.4,366.7 L242.0,366.6 L242.6,366.0 L243.2,366.8 L243.8,365.8 L244.4,366.7 L245.0,365.9 L245.6,365.2 L246.2,365.3 L246.8,366.3 L247.4,367.2 L248.0,365.9 L248.6,366.1 L249.2,366.2 L249.8,366.8 L250.4,366.0 L251.0,366.2 L251.6,366.0 L252.2,366.8 L252.8,366.1 L253.4,367.0 L254.0,366.3 L254.6,365.8 L255.2,366.4 L255.8,366.4 L256.4,365.7 L257.0,366.3 L257.6,365.6 L258.2,366.5 L258.8,366.8 L259.4,367.1 L260.0,366.9 L260.6,366.4 L261.2,366.2 L261.8,366.1 L262.4,366.9 L263.0,365.9 L263.6,366.8 L264.2,365.7 L264.8,365.5 L265.4,365.5 L266.0,366.7 L266.6,366.5 L267.2,366.2 L267.8,367.0 L268.4,366.2 L269.0,366.2 L269.6,366.3 L270.2,366.8 L270.8,367.0 L271.4,367.0 L272.0,366.4 L272.6,366.1 L273.2,365.6 L273.8,366.6 L274.4,366.8 L275.0,367.0 L275.6,366.1 L276.2,366.1 L276.8,366.7 L277.4,366.7 L278.0,365.8 L278.6,366.0 L279.2,366.9 L279.8,366.1 L280.4,365.7 L281.0,365.7 L281.6,366.4 L282.2,367.0 L282.8,366.0 L283.4,365.6 L284.0,365.5 L284.6,365.6 L285.2,366.0 L285.8,365.6 L286.4,365.7 L287.0,365.4 L287.6,366.8 L288.2,367.0 L288.8,365.9 L289.4,367.0 L290.0,366.0 L290.6,365.9 L291.2,367.0 L291.8,367.2 L292.4,367.2 L293.0,366.7 L293.6,366.0 L294.2,366.4 L294.8,365.7 L295.4,365.5 L296.0,365.7 L296.6,365.2 L297.2,365.6 L297.8,366.5 L298.4,366.8 L299.0,366.6 L299.6,366.7 L300.2,366.5 L300.8,365.8 L301.4,366.2 L302.0,366.1 L302.6,366.7 L303.2,367.3 L303.8,366.7 L304.4,366.6 L305.0,367.0 L305.6,366.5 L306.2,365.9 L306.8,366.6 L307.4,367.1 L308.0,367.2 L308.6,367.2 L309.2,367.4 L309.8,367.2 L310.4,367.0 L311.0,366.6 L311.6,366.1 L312.2,366.5 L312.8,365.7 L313.4,365.9 L314.0,366.6 L314.6,366.9 L315.2,366.8 L315.8,366.2 L316.4,366.1 L317.0,366.2 L317.6,366.5 L318.2,366.3 L318.8,366.6 L319.4,367.3 L320.0,366.2 L320.6,366.6 L321.2,367.0 L321.8,366.5 L322.4,366.4 L323.0,367.2 L323.6,366.0 L324.2,366.2 L324.8,365.7 L325.4,366.5 L326.0,367.2 L326.6,366.8 L327.2,365.9 L327.8,366.2 L328.4,366.4 L329.0,366.8 L329.6,366.6 L330.2,366.7 L330.8,367.1 L331.4,366.8 L332.0,366.4 L332.6,367.2 L333.2,366.2 L333.8,366.6 L334.4,366.3 L335.0,366.8 L335.6,365.9 L336.2,367.0 L336.8,366.4 L337.4,365.6 L338.0,365.6 L338.6,365.8 L339.2,365.2 L339.8,365.6 L340.4,365.8 L341.0,366.5 L341.6,366.1 L342.2,365.8 L342.8,365.6 L343.4,366.4 L344.0,367.2 L344.6,366.8 L345.2,366.1 L345.8,366.8 L346.4,366.4 L347.0,365.8 L347.6,365.4 L348.2,366.4 L348.8,366.9 L349.4,366.9 L350.0,366.6 L350.6,366.6 L351.2,366.0 L351.8,367.0 L352.4,366.4 L353.0,366.6 L353.6,367.1 L354.2,367.3 L354.8,366.8 L355.4,366.2 L356.0,366.4 L356.6,365.7 L357.2,366.6 L357.8,366.2 L358.4,366.9 L359.0,366.2 L359.6,366.1 L360.2,365.8 L360.8,365.9 L361.4,365.6 L362.0,365.1 L362.6,366.1 L363.2,365.8 L363.8,365.6 L364.4,365.6 L365.0,366.0 L365.6,366.0 L366.2,366.4 L366.8,366.7 L367.4,366.3 L368.0,367.1 L368.6,367.4 L369.2,366.1 L369.8,366.8 L370.4,367.3 L371.0,367.3 L371.6,366.2 L372.2,366.9 L372.8,366.9 L373.4,365.7 L374.0,365.2 L374.6,366.6 L375.2,366.7 L375.8,366.1 L376.4,365.5 L377.0,365.3 L377.6,365.3 L378.2,366.3 L378.8,366.1 L379.4,365.6 L380.0,366.7 L380.6,367.1 L381.2,366.1 L381.8,366.9 L382.4,366.8 L383.0,367.1 L383.6,367.0 L384.2,367.4 L384.8,367.4 L385.4,367.5 L386.0,366.4" fill="none" stroke="#5b3d98" stroke-width="3.6" stroke-linejoin="round" />
<path d="M165.2,366.4 L165.9,366.3 L166.6,366.6 L167.3,366.2 L168.0,366.9 L168.7,366.6 L169.4,365.8 L170.1,365.4 L170.8,365.0 L171.5,365.5 L172.2,364.9 L172.9,365.4 L173.6,365.0 L174.3,365.5 L175.0,365.7 L175.7,366.0 L176.4,366.7 L177.1,365.4 L177.8,366.4 L178.5,366.1 L179.2,366.2 L179.9,366.4 L180.6,366.9 L181.3,366.2 L182.0,365.9 L182.7,366.9 L183.4,365.6 L184.1,366.1 L184.8,366.3 L185.5,365.2 L186.2,365.8 L186.9,366.3 L187.6,367.0 L188.3,366.2 L189.0,367.1 L189.7,366.6 L190.4,366.3 L191.1,366.9 L191.8,365.5 L192.5,366.2 L193.2,366.4 L193.9,365.9 L194.6,366.7 L195.3,366.1 L196.0,366.0 L196.7,366.1 L197.4,366.6 L198.1,365.7 L198.8,365.7 L199.5,365.7 L200.2,366.0 L200.9,366.6 L201.6,365.9 L202.3,366.6 L203.0,366.1 L203.7,366.1 L204.4,365.6 L205.1,365.8 L205.8,366.9 L206.5,366.7 L207.2,367.0 L207.9,366.2 L208.6,365.7 L209.3,365.5 L210.0,365.9 L210.7,366.2 L211.4,366.7 L212.1,365.4 L212.8,366.2 L213.5,366.9 L214.2,366.5 L214.9,365.4 L215.6,365.3 L216.3,364.7 L217.0,364.7 L217.7,366.2 L218.4,366.3 L219.1,366.5 L219.8,366.8 L220.5,367.2 L221.2,366.9 L221.9,366.7 L222.6,366.6 L223.3,366.7 L224.0,366.5 L224.7,366.6 L225.4,365.8 L226.1,366.2 L226.8,366.0 L227.5,366.5 L228.2,365.5 L228.9,365.1 L229.6,364.6 L230.3,365.9 L231.0,366.8 L231.7,366.7 L232.4,366.1 L233.1,366.7 L233.8,366.9 L234.5,366.6 L235.2,365.8 L235.9,365.5 L236.6,365.6 L237.3,365.4 L238.0,365.6 L238.7,366.1 L239.4,366.9 L240.1,365.6 L240.8,365.9 L241.5,365.1 L242.2,364.8 L242.9,366.0 L243.6,366.2 L244.3,366.9 L245.0,366.4 L245.7,365.2 L246.4,365.4 L247.1,365.9 L247.8,366.8 L248.5,367.4 L249.2,366.6 L249.9,366.2 L250.6,365.3 L251.3,365.9 L252.0,365.4 L252.7,365.0 L253.4,364.5 L254.1,364.3 L254.8,365.5 L255.5,365.0 L256.2,366.4 L256.9,365.4 L257.6,366.4 L258.3,365.5 L259.0,364.8 L259.7,365.8 L260.4,365.4 L261.1,366.2 L261.8,365.5 L262.5,364.8 L263.2,366.0 L263.9,366.4 L264.6,366.9 L265.3,366.9 L266.0,365.6 L266.7,366.1 L267.4,366.5 L268.1,366.2 L268.8,367.0 L269.5,366.0 L270.2,366.9 L270.9,366.9 L271.6,365.5 L272.3,364.8 L273.0,365.7 L273.7,366.5 L274.4,365.4 L275.1,365.3 L275.8,366.1 L276.5,365.4 L277.2,366.4 L277.9,366.2 L278.6,365.2 L279.3,365.4 L280.0,365.8 L280.7,365.8 L281.4,366.3 L282.1,365.4 L282.8,366.3 L283.5,365.9 L284.2,366.2 L284.9,366.4 L285.6,366.0 L286.3,365.8 L287.0,366.5 L287.7,367.1 L288.4,367.1 L289.1,366.7 L289.8,365.9 L290.5,365.1 L291.2,366.5 L291.9,366.7 L292.6,367.0 L293.3,366.2 L294.0,366.3 L294.7,367.1 L295.4,367.2 L296.1,366.8 L296.8,366.0 L297.5,365.9 L298.2,366.7 L298.9,366.1 L299.6,366.4 L300.3,366.4 L301.0,367.0 L301.7,367.1 L302.4,366.1 L303.1,365.1 L303.8,365.1 L304.5,365.4 L305.2,365.9 L305.9,366.6 L306.6,367.1 L307.3,365.6 L308.0,366.5 L308.7,366.9 L309.4,367.2 L310.1,366.7 L310.8,365.9 L311.5,366.7 L312.2,367.0 L312.9,366.9 L313.6,367.3 L314.3,366.3 L315.0,365.3 L315.7,365.8 L316.4,366.5 L317.1,365.7 L317.8,366.3 L318.5,367.0 L319.2,366.0 L319.9,366.2 L320.6,366.5 L321.3,366.2 L322.0,365.5 L322.7,365.3 L323.4,366.1 L324.1,366.7 L324.8,366.3 L325.5,365.3 L326.2,366.3 L326.9,366.7 L327.6,365.8 L328.3,366.1 L329.0,366.8 L329.7,367.2 L330.4,366.6 L331.1,366.3 L331.8,366.3 L332.5,365.5 L333.2,365.2 L333.9,365.0 L334.6,365.9 L335.3,365.7 L336.0,366.0 L336.7,365.8 L337.4,365.9 L338.1,365.3 L338.8,364.7 L339.5,366.4 L340.2,365.9 L340.9,365.2 L341.6,365.9 L342.3,366.5 L343.0,365.6 L343.7,366.0 L344.4,365.7 L345.1,365.9 L345.8,365.0 L346.5,364.6 L347.2,366.3 L347.9,366.9 L348.6,366.4 L349.3,366.4 L350.0,365.7 L350.7,366.4 L351.4,366.1 L352.1,366.9 L352.8,367.0 L353.5,367.1 L354.2,367.5 L354.9,366.3 L355.6,365.2 L356.3,365.0 L357.0,364.9 L357.7,364.6 L358.4,364.4 L359.1,365.3 L359.8,366.4 L360.5,366.1 L361.2,367.0 L361.9,367.3 L362.6,365.8 L363.3,366.1 L364.0,365.9 L364.7,365.2 L365.4,366.5 L366.1,365.8 L366.8,366.0 L367.5,366.3 L368.2,367.1 L368.9,366.9 L369.6,366.2 L370.3,366.0 L371.0,365.3 L371.7,366.6 L372.4,367.3 L373.1,366.1 L373.8,365.1 L374.5,365.1 L375.2,365.3 L375.9,366.4 L376.6,367.0 L377.3,367.2 L378.0,365.7 L378.7,366.4 L379.4,366.6 L380.1,366.6 L380.8,367.3 L381.5,365.8 L382.2,365.2 L382.9,366.1 L383.6,366.9 L384.3,366.8 L385.0,366.0 L385.7,366.2 L386.4,366.6" fill="none" stroke="#8a3fa6" stroke-width="1.6" stroke-linejoin="round" />
<path d="M165.2,366.4 L165.9,366.4 L166.6,366.4 L167.3,366.1 L168.0,366.5 L168.7,366.3 L169.4,366.2 L170.1,366.1 L170.8,366.8 L171.5,366.2 L172.2,366.9 L172.9,366.5 L173.6,366.0 L174.3,367.2 L175.0,366.7 L175.7,367.6 L176.4,367.9 L177.1,368.1 L177.8,367.0 L178.5,366.9 L179.2,366.3 L179.9,367.4 L180.6,367.8 L181.3,367.6 L182.0,367.2 L182.7,366.9 L183.4,367.5 L184.1,367.2 L184.8,367.3 L185.5,366.6 L186.2,366.4 L186.9,366.0 L187.6,366.9 L188.3,367.0 L189.0,366.5 L189.7,367.3 L190.4,366.8 L191.1,366.8 L191.8,366.4 L192.5,366.3 L193.2,367.2 L193.9,366.9 L194.6,366.4 L195.3,366.7 L196.0,366.6 L196.7,367.5 L197.4,366.6 L198.1,367.6 L198.8,366.6 L199.5,367.5 L200.2,367.5 L200.9,366.8 L201.6,366.9 L202.3,366.6 L203.0,366.4 L203.7,366.3 L204.4,366.4 L205.1,367.5 L205.8,368.1 L206.5,368.2 L207.2,367.0 L207.9,366.7 L208.6,367.5 L209.3,366.6 L210.0,367.2 L210.7,366.8 L211.4,367.7 L212.1,366.6 L212.8,367.3 L213.5,366.9 L214.2,366.4 L214.9,365.9 L215.6,367.0 L216.3,367.1 L217.0,366.5 L217.7,366.7 L218.4,367.5 L219.1,366.8 L219.8,367.0 L220.5,366.5 L221.2,366.2 L221.9,367.1 L222.6,367.4 L223.3,366.7 L224.0,366.2 L224.7,366.0 L225.4,366.7 L226.1,366.8 L226.8,366.6 L227.5,366.3 L228.2,366.9 L228.9,367.3 L229.6,367.7 L230.3,367.5 L231.0,366.8 L231.7,366.2 L232.4,367.0 L233.1,366.9 L233.8,367.3 L234.5,366.5 L235.2,367.2 L235.9,366.9 L236.6,367.5 L237.3,367.9 L238.0,367.4 L238.7,366.5 L239.4,367.4 L240.1,367.2 L240.8,367.7 L241.5,367.0 L242.2,366.5 L242.9,367.3 L243.6,367.0 L244.3,366.5 L245.0,366.5 L245.7,366.9 L246.4,366.2 L247.1,366.6 L247.8,366.8 L248.5,366.9 L249.2,366.4 L249.9,367.0 L250.6,367.5 L251.3,367.9 L252.0,367.2 L252.7,367.4 L253.4,367.1 L254.1,367.4 L254.8,366.5 L255.5,367.4 L256.2,367.9 L256.9,367.5 L257.6,367.3 L258.3,367.2 L259.0,367.2 L259.7,366.3 L260.4,367.4 L261.1,366.8 L261.8,366.4 L262.5,366.1 L263.2,366.2 L263.9,367.1 L264.6,366.3 L265.3,366.0 L266.0,366.9 L266.7,366.5 L267.4,366.0 L268.1,366.7 L268.8,367.0 L269.5,367.0 L270.2,367.4 L270.9,366.6 L271.6,367.4 L272.3,367.6 L273.0,366.6 L273.7,366.2 L274.4,366.6 L275.1,366.8 L275.8,366.6 L276.5,366.2 L277.2,366.5 L277.9,366.2 L278.6,366.8 L279.3,367.5 L280.0,366.7 L280.7,367.0 L281.4,367.4 L282.1,366.7 L282.8,367.4 L283.5,367.9 L284.2,367.3 L284.9,367.0 L285.6,367.6 L286.3,367.4 L287.0,367.0 L287.7,367.7 L288.4,367.8 L289.1,367.2 L289.8,366.7 L290.5,366.6 L291.2,366.7 L291.9,367.6 L292.6,367.8 L293.3,368.1 L294.0,368.1 L294.7,368.1 L295.4,366.9 L296.1,367.0 L296.8,367.7 L297.5,368.1 L298.2,367.2 L298.9,367.0 L299.6,367.2 L300.3,366.9 L301.0,367.0 L301.7,366.3 L302.4,366.6 L303.1,366.8 L303.8,366.2 L304.5,366.0 L305.2,367.3 L305.9,367.6 L306.6,368.0 L307.3,367.7 L308.0,367.9 L308.7,368.1 L309.4,368.2 L310.1,366.9 L310.8,367.2 L311.5,366.7 L312.2,367.2 L312.9,366.7 L313.6,367.0 L314.3,367.7 L315.0,367.6 L315.7,366.9 L316.4,367.0 L317.1,366.9 L317.8,367.7 L318.5,367.0 L319.2,366.7 L319.9,367.1 L320.6,366.5 L321.3,366.9 L322.0,367.7 L322.7,367.4 L323.4,366.8 L324.1,366.9 L324.8,367.0 L325.5,366.5 L326.2,366.1 L326.9,366.0 L327.6,366.2 L328.3,366.5 L329.0,366.4 L329.7,366.3 L330.4,366.0 L331.1,366.6 L331.8,367.4 L332.5,367.4 L333.2,367.3 L333.9,367.4 L334.6,366.8 L335.3,367.2 L336.0,367.1 L336.7,367.1 L337.4,367.3 L338.1,367.1 L338.8,366.8 L339.5,366.5 L340.2,366.3 L340.9,366.7 L341.6,366.7 L342.3,367.0 L343.0,366.2 L343.7,366.4 L344.4,367.3 L345.1,366.7 L345.8,367.0 L346.5,367.0 L347.2,366.7 L347.9,367.6 L348.6,367.0 L349.3,367.5 L350.0,366.7 L350.7,366.2 L351.4,367.2 L352.1,367.0 L352.8,366.3 L353.5,366.5 L354.2,366.7 L354.9,367.2 L355.6,366.5 L356.3,366.3 L357.0,367.4 L357.7,367.6 L358.4,366.8 L359.1,366.6 L359.8,366.6 L360.5,367.1 L361.2,367.3 L361.9,367.7 L362.6,367.9 L363.3,367.5 L364.0,367.6 L364.7,367.7 L365.4,367.8 L366.1,367.4 L366.8,367.7 L367.5,367.7 L368.2,368.0 L368.9,366.9 L369.6,367.6 L370.3,366.5 L371.0,367.2 L371.7,367.3 L372.4,367.1 L373.1,367.8 L373.8,367.5 L374.5,367.2 L375.2,367.6 L375.9,367.9 L376.6,367.6 L377.3,367.1 L378.0,367.0 L378.7,367.0 L379.4,367.4 L380.1,366.9 L380.8,366.8 L381.5,367.0 L382.2,366.8 L382.9,366.6 L383.6,367.3 L384.3,367.7 L385.0,367.4 L385.7,367.1 L386.4,366.6" fill="none" stroke="#3c3f86" stroke-width="1.6" stroke-linejoin="round" />
<path d="M165.2,358.2 L165.8,357.9 L166.4,358.3 L167.0,358.5 L167.6,357.9 L168.2,358.8 L168.8,358.4 L169.4,358.9 L170.0,359.2 L170.6,359.5 L171.2,358.6 L171.8,358.4 L172.4,359.1 L173.0,358.1 L173.6,357.7 L174.2,358.2 L174.8,358.3 L175.4,359.0 L176.0,359.1 L176.6,358.9 L177.2,359.4 L177.8,359.0 L178.4,358.8 L179.0,358.9 L179.6,358.5 L180.2,358.3 L180.8,358.6 L181.4,358.3 L182.0,359.0 L182.6,359.0 L183.2,358.8 L183.8,358.1 L184.4,358.1 L185.0,358.2 L185.6,358.4 L186.2,358.6 L186.8,359.1 L187.4,359.4 L188.0,359.0 L188.6,358.7 L189.2,358.8 L189.8,359.3 L190.4,358.7 L191.0,358.6 L191.6,359.0 L192.2,358.3 L192.8,358.2 L193.4,359.0 L194.0,359.2 L194.6,358.9 L195.2,358.1 L195.8,358.9 L196.4,359.0 L197.0,359.2 L197.6,359.5 L198.2,359.6 L198.8,358.9 L199.4,358.2 L200.0,358.1 L200.6,358.3 L201.2,358.4 L201.8,358.0 L202.4,357.8 L203.0,358.3 L203.6,358.6 L204.2,358.3 L204.8,359.1 L205.4,359.0 L206.0,358.1 L206.6,358.2 L207.2,358.8 L207.8,358.4 L208.4,358.7 L209.0,357.9 L209.6,357.9 L210.2,358.7 L210.8,358.7 L211.4,358.9 L212.0,358.3 L212.6,358.4 L213.2,358.5 L213.8,358.2 L214.4,358.6 L215.0,358.6 L215.6,359.2 L216.2,359.0 L216.8,358.6 L217.4,358.0 L218.0,357.8 L218.6,358.5 L219.2,358.0 L219.8,357.7 L220.4,357.6 L221.0,358.1 L221.6,358.8 L222.2,358.8 L222.8,359.1 L223.4,358.2 L224.0,357.7 L224.6,358.5 L225.2,358.2 L225.8,358.7 L226.4,358.4 L227.0,358.0 L227.6,357.9 L228.2,357.7 L228.8,358.6 L229.4,358.7 L230.0,358.4 L230.6,358.4 L231.2,358.3 L231.8,357.8 L232.4,358.7 L233.0,358.7 L233.6,359.3 L234.2,358.8 L234.8,358.8 L235.4,358.3 L236.0,357.8 L236.6,358.7 L237.2,359.1 L237.8,358.6 L238.4,359.1 L239.0,359.2 L239.6,358.6 L240.2,358.7 L240.8,359.2 L241.4,358.9 L242.0,359.3 L242.6,358.6 L243.2,358.4 L243.8,358.8 L244.4,358.2 L245.0,358.1 L245.6,358.8 L246.2,358.7 L246.8,359.0 L247.4,358.4 L248.0,358.0 L248.6,358.1 L249.2,357.8 L249.8,358.8 L250.4,358.4 L251.0,358.5 L251.6,358.0 L252.2,358.3 L252.8,358.2 L253.4,358.2 L254.0,357.8 L254.6,357.6 L255.2,358.5 L255.8,358.3 L256.4,358.1 L257.0,357.8 L257.6,357.9 L258.2,357.8 L258.8,357.5 L259.4,358.2 L260.0,358.2 L260.6,357.9 L261.2,358.5 L261.8,357.9 L262.4,357.9 L263.0,358.7 L263.6,358.1 L264.2,358.2 L264.8,358.8 L265.4,359.1 L266.0,358.3 L266.6,358.2 L267.2,358.7 L267.8,358.4 L268.4,359.1 L269.0,358.4 L269.6,359.1 L270.2,358.8 L270.8,358.3 L271.4,358.3 L272.0,357.9 L272.6,358.5 L273.2,358.2 L273.8,358.9 L274.4,358.8 L275.0,358.5 L275.6,358.1 L276.2,358.5 L276.8,358.1 L277.4,358.8 L278.0,358.1 L278.6,358.3 L279.2,358.5 L279.8,358.2 L280.4,358.7 L281.0,358.5 L281.6,358.7 L282.2,358.7 L282.8,358.3 L283.4,358.3 L284.0,357.8 L284.6,357.7 L285.2,358.6 L285.8,358.3 L286.4,358.6 L287.0,358.0 L287.6,358.4 L288.2,358.2 L288.8,358.4 L289.4,358.2 L290.0,357.7 L290.6,357.9 L291.2,357.8 L291.8,357.6 L292.4,358.4 L293.0,358.1 L293.6,358.2 L294.2,358.9 L294.8,359.1 L295.4,359.3 L296.0,359.4 L296.6,358.5 L297.2,358.2 L297.8,357.7 L298.4,358.3 L299.0,358.7 L299.6,358.4 L300.2,358.3 L300.8,358.6 L301.4,358.9 L302.0,358.3 L302.6,358.9 L303.2,358.5 L303.8,358.7 L304.4,358.2 L305.0,357.8 L305.6,358.7 L306.2,358.9 L306.8,359.0 L307.4,358.1 L308.0,357.7 L308.6,357.6 L309.2,357.6 L309.8,357.8 L310.4,358.0 L311.0,357.6 L311.6,357.8 L312.2,358.3 L312.8,358.0 L313.4,358.7 L314.0,358.7 L314.6,358.9 L315.2,358.4 L315.8,358.3 L316.4,358.7 L317.0,358.4 L317.6,357.8 L318.2,358.6 L318.8,358.9 L319.4,358.4 L320.0,357.8 L320.6,358.7 L321.2,358.7 L321.8,358.0 L322.4,357.9 L323.0,357.7 L323.6,358.5 L324.2,358.1 L324.8,358.9 L325.4,359.0 L326.0,358.2 L326.6,358.6 L327.2,358.4 L327.8,358.8 L328.4,359.1 L329.0,358.5 L329.6,357.9 L330.2,358.8 L330.8,358.6 L331.4,359.1 L332.0,359.1 L332.6,359.1 L333.2,359.3 L333.8,359.1 L334.4,358.7 L335.0,358.0 L335.6,358.5 L336.2,358.4 L336.8,358.5 L337.4,359.1 L338.0,358.3 L338.6,358.8 L339.2,358.0 L339.8,358.5 L340.4,359.0 L341.0,358.4 L341.6,358.5 L342.2,359.2 L342.8,359.0 L343.4,358.8 L344.0,358.3 L344.6,357.8 L345.2,358.0 L345.8,358.1 L346.4,357.9 L347.0,357.9 L347.6,357.7 L348.2,358.4 L348.8,358.7 L349.4,358.2 L350.0,358.0 L350.6,358.3 L351.2,358.3 L351.8,359.0 L352.4,358.6 L353.0,358.3 L353.6,358.9 L354.2,358.2 L354.8,358.5 L355.4,358.2 L356.0,358.8 L356.6,358.7 L357.2,359.0 L357.8,358.3 L358.4,358.6 L359.0,358.7 L359.6,358.6 L360.2,358.9 L360.8,359.2 L361.4,358.3 L362.0,358.1 L362.6,358.1 L363.2,357.9 L363.8,357.6 L364.4,357.7 L365.0,357.7 L365.6,358.4 L366.2,358.4 L366.8,357.9 L367.4,358.0 L368.0,358.2 L368.6,358.2 L369.2,357.9 L369.8,357.6 L370.4,357.4 L371.0,358.6 L371.6,358.9 L372.2,358.1 L372.8,358.6 L373.4,359.2 L374.0,359.0 L374.6,358.2 L375.2,358.3 L375.8,358.3 L376.4,358.0 L377.0,358.3 L377.6,357.7 L378.2,358.7 L378.8,358.8 L379.4,358.8 L380.0,359.3 L380.6,359.1 L381.2,358.5 L381.8,358.1 L382.4,357.8 L383.0,357.5 L383.6,358.4 L384.2,358.9 L384.8,358.4 L385.4,358.0 L386.0,358.5" fill="none" stroke="#b0183a" stroke-width="3.4" stroke-linejoin="round" />
<path d="M165.2,348.1 L165.8,347.8 L166.4,346.5 L167.0,345.8 L167.6,345.3 L168.2,344.7 L168.8,344.0 L169.4,343.3 L170.0,343.5 L170.6,343.1 L171.2,343.0 L171.8,343.1 L172.4,343.1 L173.0,343.7 L173.6,343.6 L174.2,343.4 L174.8,344.0 L175.4,344.5 L176.0,345.2 L176.6,345.6 L177.2,346.1 L177.8,346.5 L178.4,346.4 L179.0,346.4 L179.6,346.1 L180.2,346.1 L180.8,346.4 L181.4,346.1 L182.0,346.5 L182.6,346.2 L183.2,346.3 L183.8,346.8 L184.4,346.3 L185.0,345.9 L185.6,346.0 L186.2,345.8 L186.8,346.2 L187.4,345.7 L188.0,346.2 L188.6,346.5 L189.2,346.6 L189.8,346.3 L190.4,346.0 L191.0,346.1 L191.6,346.1 L192.2,346.0 L192.8,345.9 L193.4,346.0 L194.0,346.3 L194.6,346.6 L195.2,347.0 L195.8,346.5 L196.4,346.4 L197.0,346.5 L197.6,346.8 L198.2,346.8 L198.8,346.7 L199.4,346.6 L200.0,346.8 L200.6,347.1 L201.2,347.8 L201.8,348.2 L202.4,348.4 L203.0,348.7 L203.6,348.9 L204.2,348.7 L204.8,348.8 L205.4,348.1 L206.0,348.3 L206.6,348.3 L207.2,348.0 L207.8,348.1 L208.4,348.4 L209.0,348.2 L209.6,348.2 L210.2,347.8 L210.8,347.6 L211.4,347.9 L212.0,347.3 L212.6,347.0 L213.2,347.3 L213.8,347.2 L214.4,346.8 L215.0,347.1 L215.6,347.0 L216.2,347.1 L216.8,347.0 L217.4,347.1 L218.0,347.2 L218.6,347.1 L219.2,346.7 L219.8,346.6 L220.4,347.3 L221.0,347.3 L221.6,347.0 L222.2,347.5 L222.8,347.3 L223.4,347.0 L224.0,347.2 L224.6,347.1 L225.2,347.3 L225.8,347.5 L226.4,347.3 L227.0,347.5 L227.6,347.1 L228.2,347.3 L228.8,347.4 L229.4,347.0 L230.0,347.0 L230.6,346.7 L231.2,346.8 L231.8,347.2 L232.4,347.1 L233.0,347.1 L233.6,347.2 L234.2,346.5 L234.8,346.9 L235.4,346.8 L236.0,346.1 L236.6,346.4 L237.2,346.1 L237.8,345.6 L238.4,346.1 L239.0,346.0 L239.6,346.1 L240.2,345.6 L240.8,345.9 L241.4,345.3 L242.0,345.2 L242.6,345.3 L243.2,345.0 L243.8,345.4 L244.4,345.3 L245.0,345.4 L245.6,345.9 L246.2,345.9 L246.8,346.4 L247.4,346.5 L248.0,346.9 L248.6,346.8 L249.2,347.1 L249.8,347.3 L250.4,346.7 L251.0,347.0 L251.6,346.8 L252.2,347.0 L252.8,347.1 L253.4,347.3 L254.0,346.8 L254.6,346.7 L255.2,346.9 L255.8,347.3 L256.4,347.2 L257.0,346.6 L257.6,346.7 L258.2,346.2 L258.8,346.4 L259.4,346.7 L260.0,346.2 L260.6,346.7 L261.2,346.7 L261.8,346.4 L262.4,346.1 L263.0,346.2 L263.6,346.6 L264.2,346.7 L264.8,346.3 L265.4,346.0 L266.0,345.9 L266.6,346.6 L267.2,346.5 L267.8,346.8 L268.4,346.8 L269.0,347.2 L269.6,347.2 L270.2,347.0 L270.8,347.7 L271.4,347.8 L272.0,348.0 L272.6,348.3 L273.2,348.7 L273.8,348.0 L274.4,348.0 L275.0,347.7 L275.6,348.0 L276.2,348.4 L276.8,348.7 L277.4,348.0 L278.0,347.8 L278.6,348.2 L279.2,348.3 L279.8,348.1 L280.4,348.0 L281.0,347.5 L281.6,347.9 L282.2,347.7 L282.8,347.9 L283.4,347.8 L284.0,347.2 L284.6,347.0 L285.2,346.8 L285.8,347.2 L286.4,347.2 L287.0,346.6 L287.6,346.4 L288.2,346.5 L288.8,346.6 L289.4,346.8 L290.0,346.7 L290.6,346.6 L291.2,346.3 L291.8,346.6 L292.4,346.6 L293.0,346.3 L293.6,346.6 L294.2,347.3 L294.8,346.8 L295.4,346.6 L296.0,347.0 L296.6,346.9 L297.2,346.8 L297.8,347.0 L298.4,346.8 L299.0,347.0 L299.6,347.1 L300.2,347.5 L300.8,347.8 L301.4,347.0 L302.0,347.0 L302.6,347.1 L303.2,347.3 L303.8,347.2 L304.4,347.0 L305.0,346.8 L305.6,346.4 L306.2,346.0 L306.8,346.3 L307.4,346.5 L308.0,346.6 L308.6,346.4 L309.2,345.9 L309.8,346.0 L310.4,346.0 L311.0,345.8 L311.6,345.8 L312.2,345.6 L312.8,345.6 L313.4,345.5 L314.0,345.2 L314.6,345.3 L315.2,345.4 L315.8,346.1 L316.4,346.1 L317.0,346.0 L317.6,345.9 L318.2,345.9 L318.8,346.0 L319.4,345.9 L320.0,345.8 L320.6,346.6 L321.2,346.7 L321.8,346.7 L322.4,346.9 L323.0,346.8 L323.6,346.6 L324.2,346.4 L324.8,346.5 L325.4,346.6 L326.0,347.0 L326.6,347.1 L327.2,347.5 L327.8,347.2 L328.4,347.5 L329.0,347.4 L329.6,346.8 L330.2,346.5 L330.8,346.7 L331.4,347.2 L332.0,346.9 L332.6,347.1 L333.2,346.9 L333.8,347.2 L334.4,346.6 L335.0,346.7 L335.6,347.2 L336.2,346.9 L336.8,346.7 L337.4,346.4 L338.0,346.4 L338.6,346.5 L339.2,347.1 L339.8,347.0 L340.4,347.1 L341.0,347.1 L341.6,347.5 L342.2,348.0 L342.8,348.2 L343.4,347.8 L344.0,348.2 L344.6,348.7 L345.2,348.6 L345.8,348.1 L346.4,348.5 L347.0,348.7 L347.6,348.4 L348.2,348.0 L348.8,347.7 L349.4,347.9 L350.0,348.3 L350.6,348.3 L351.2,348.5 L351.8,347.9 L352.4,347.6 L353.0,347.8 L353.6,347.7 L354.2,347.4 L354.8,347.4 L355.4,347.1 L356.0,346.6 L356.6,346.6 L357.2,346.2 L357.8,346.5 L358.4,346.3 L359.0,346.4 L359.6,346.5 L360.2,346.3 L360.8,346.3 L361.4,345.9 L362.0,346.6 L362.6,346.6 L363.2,347.1 L363.8,346.5 L364.4,346.6 L365.0,346.9 L365.6,346.7 L366.2,346.3 L366.8,346.2 L367.4,346.1 L368.0,346.7 L368.6,346.4 L369.2,346.9 L369.8,346.8 L370.4,346.9 L371.0,346.9 L371.6,346.9 L372.2,347.0 L372.8,346.9 L373.4,346.6 L374.0,346.8 L374.6,346.4 L375.2,346.6 L375.8,346.7 L376.4,346.7 L377.0,346.2 L377.6,346.4 L378.2,346.6 L378.8,346.2 L379.4,345.8 L380.0,345.8 L380.6,346.1 L381.2,345.6 L381.8,345.1 L382.4,345.3 L383.0,345.6 L383.6,345.9 L384.2,345.7 L384.8,346.2 L385.4,345.8 L386.0,346.2" fill="none" stroke="#0c0c0c" stroke-width="3" stroke-linejoin="round" />
<rect x="160.5" y="259.3" width="229.0" height="170.5" fill="none" stroke="#2b2b2b" stroke-width="1.25"/>
<path d="M163.30,429.8V425.80M206.70,429.8V425.80M250.10,429.8V425.80M293.50,429.8V425.80M336.90,429.8V425.80M380.30,429.8V425.80M185.00,429.8V427.00M228.40,429.8V427.00M271.80,429.8V427.00M315.20,429.8V427.00M358.60,429.8V427.00M160.5,395.69H164.50M160.5,361.58H164.50M160.5,327.47H164.50M160.5,293.36H164.50M160.5,412.75H163.30M160.5,378.63H163.30M160.5,344.52H163.30M160.5,310.42H163.30M160.5,276.31H163.30" stroke="#2b2b2b" stroke-width="1.1" fill="none"/>
<text transform="translate(153.5,435.5) scale(0.93,1)" font-size="14.0" text-anchor="end" fill="#2a2a2a" >0</text>
<text transform="translate(153.5,401.39) scale(0.93,1)" font-size="14.0" text-anchor="end" fill="#2a2a2a" >0.05</text>
<text transform="translate(153.5,367.28) scale(0.93,1)" font-size="14.0" text-anchor="end" fill="#2a2a2a" >0.10</text>
<text transform="translate(153.5,333.17) scale(0.93,1)" font-size="14.0" text-anchor="end" fill="#2a2a2a" >0.15</text>
<text transform="translate(153.5,299.06) scale(0.93,1)" font-size="14.0" text-anchor="end" fill="#2a2a2a" >0.20</text>
<text transform="translate(153.5,264.95) scale(0.93,1)" font-size="14.0" text-anchor="end" fill="#2a2a2a" >0.25</text>
<text transform="translate(163.3,445) scale(0.93,1)" font-size="14.0" text-anchor="middle" fill="#2a2a2a" word-spacing="-0.8">0</text>
<text transform="translate(206.7,445) scale(0.93,1)" font-size="14.0" text-anchor="middle" fill="#2a2a2a" word-spacing="-0.8">700</text>
<text transform="translate(250.1,445) scale(0.93,1)" font-size="14.0" text-anchor="middle" fill="#2a2a2a" word-spacing="-0.8">1 400</text>
<text transform="translate(293.5,445) scale(0.93,1)" font-size="14.0" text-anchor="middle" fill="#2a2a2a" word-spacing="-0.8">2 100</text>
<text transform="translate(336.9,445) scale(0.93,1)" font-size="14.0" text-anchor="middle" fill="#2a2a2a" word-spacing="-0.8">2 800</text>
<text transform="translate(380.3,445) scale(0.93,1)" font-size="14.0" text-anchor="middle" fill="#2a2a2a" word-spacing="-0.8">3 500</text>
<text transform="translate(107.6,344.5) rotate(-90) scale(0.93,1)" font-size="14.4" text-anchor="middle" fill="#2a2a2a">Friction coefficient</text>
<text transform="translate(267.2,466.6) scale(0.92,1)" font-size="14.5" text-anchor="middle" fill="#2a2a2a" >Time/s</text>
<text x="271" y="484" font-size="14.2" text-anchor="middle" fill="#2a2a2a" >(c)</text>
<text x="246.6" y="277.6" font-size="10.1" text-anchor="start" fill="#2a2a2a" >5% LMWG2-gel</text>
<line x1="246.6" y1="288.7" x2="265.2" y2="288.7" stroke="#1a1a1a" stroke-width="1.6"/>
<text x="267.9" y="292.0" font-size="9.8" text-anchor="start" fill="#2a2a2a" >−50 <tspan font-size="8.2">℃</tspan></text>
<line x1="246.6" y1="301.3" x2="265.2" y2="301.3" stroke="#a06a80" stroke-width="1.4"/>
<text x="267.9" y="304.6" font-size="9.8" text-anchor="start" fill="#2a2a2a" >−20 <tspan font-size="8.2">℃</tspan></text>
<line x1="246.6" y1="314" x2="265.2" y2="314" stroke="#566670" stroke-width="1.4"/>
<text x="267" y="317.3" font-size="9.8" text-anchor="start" fill="#2a2a2a" >0 <tspan font-size="8.2">℃</tspan></text>
<line x1="246.6" y1="326.5" x2="265.2" y2="326.5" stroke="#4a8c90" stroke-width="1.4"/>
<text x="267" y="329.8" font-size="9.8" text-anchor="start" fill="#2a2a2a" >20 <tspan font-size="8.2">℃</tspan></text>
<line x1="246.6" y1="338.9" x2="265.2" y2="338.9" stroke="#94789a" stroke-width="1.4"/>
<text x="267" y="342.2" font-size="9.8" text-anchor="start" fill="#2a2a2a" >50 <tspan font-size="8.2">℃</tspan></text>
</g>
<g id="chartD">
<path d="M472.6,392.8 L472.9,392.5 L473.2,390.4 L473.6,392.4 L473.9,389.3 L474.2,390.4 L474.6,384.5 L474.9,381.2 L475.2,372.7 L475.6,371.4 L475.9,358.1 L476.2,350.4 L476.5,339.6 L476.8,330.8 L477.1,319.4 L477.4,329.4 L477.8,335.8 L478.1,347.2 L478.4,352.7 L478.7,360.1 L479.0,364.9 L479.3,373.0 L479.6,377.4 L479.9,381.8 L480.3,382.5 L480.6,387.4 L480.9,385.6 L481.3,391.7 L481.6,388.2 L481.9,393.0 L482.2,387.8 L482.6,393.9 L482.9,388.9 L483.2,393.4 L483.5,386.4 L483.8,393.9 L484.1,387.5 L484.4,389.5 L484.8,387.2 L485.1,389.9 L485.4,386.5 L485.7,390.3 L486.0,382.7 L486.3,388.8 L486.6,379.8 L487.0,384.9 L487.3,378.8 L487.6,383.9 L488.0,376.8 L488.3,379.2 L488.6,376.0 L489.0,376.9 L489.3,370.3 L489.7,369.8 L490.0,363.3 L490.4,364.7 L490.7,362.0 L491.0,372.5 L491.4,369.2 L491.7,379.9 L492.0,377.1 L492.3,381.9 L492.7,379.2 L493.0,384.4 L493.3,380.7 L493.7,387.4 L494.0,382.2 L494.3,389.9 L494.6,383.1 L495.0,391.2 L495.3,386.1 L495.6,392.7 L495.9,387.8 L496.2,395.3 L496.6,386.6 L496.9,393.5 L497.2,389.8 L497.5,394.4 L497.8,388.4 L498.1,395.8 L498.5,393.0 L498.8,396.1 L499.1,395.2 L499.4,397.5 L499.7,396.3 L500.0,399.2 L500.3,398.5 L500.6,400.9 L500.9,398.1 L501.2,400.5 L501.6,398.5 L501.9,400.8 L502.2,399.3 L502.5,401.0 L502.8,400.3 L503.1,402.8 L503.4,401.2 L503.7,402.9 L504.0,400.5 L504.3,403.1 L504.6,400.6 L504.9,402.9 L505.2,400.7 L505.6,404.4 L505.9,401.2 L506.2,404.1 L506.5,401.4 L506.8,402.1 L507.1,400.0 L507.4,402.6 L507.8,400.2 L508.1,403.4 L508.4,401.2 L508.7,404.2 L509.0,401.0 L509.3,403.0 L509.6,400.7 L510.0,402.2 L510.3,400.0 L510.6,401.3 L510.9,399.2 L511.2,401.0 L511.6,398.5 L511.9,400.7 L512.2,399.8 L512.5,401.9 L512.8,400.1 L513.2,401.2 L513.5,398.9 L513.8,400.9 L514.1,398.9 L514.4,400.9 L514.8,398.6 L515.1,401.3 L515.4,399.2 L515.7,401.1 L516.0,398.1 L516.4,400.2 L516.7,397.6 L517.0,400.0 L517.3,398.6 L517.6,400.8 L517.9,398.0 L518.2,400.5 L518.5,398.3 L518.8,400.9 L519.1,398.9 L519.4,399.9 L519.7,397.1 L520.0,399.5 L520.3,397.2 L520.6,398.9 L520.9,395.0 L521.2,397.5 L521.5,394.9 L521.8,397.1 L522.1,395.1 L522.5,398.9 L522.8,394.1 L523.1,396.6 L523.4,394.5 L523.7,396.6 L524.0,393.5 L524.3,396.3 L524.6,392.2 L524.9,394.1 L525.2,390.6 L525.5,395.5 L525.9,391.6 L526.2,393.2 L526.5,389.7 L526.8,392.8 L527.1,388.6 L527.4,392.6 L527.7,389.6 L528.0,391.5 L528.3,388.0 L528.6,390.4 L529.0,388.7 L529.3,392.4 L529.6,388.7 L529.9,392.3 L530.2,390.7 L530.5,392.8 L530.8,387.6 L531.1,390.7 L531.4,385.9 L531.7,390.6 L532.0,386.5 L532.3,389.8 L532.6,385.8 L532.9,389.8 L533.2,386.2 L533.7,376.7 L534.3,384.2 L534.6,386.5 L535.0,383.7 L535.3,385.1 L535.7,383.7 L536.0,385.5 L536.3,381.7 L536.6,384.4 L537.0,379.3 L537.3,383.4 L537.6,378.0 L538.0,383.6 L538.3,381.2 L538.6,384.9 L539.0,384.4 L539.4,389.1 L539.7,386.9 L540.1,392.4 L540.4,387.9 L540.7,394.5 L541.1,391.7 L541.4,395.4 L541.7,391.6 L542.0,395.6 L542.4,393.8 L542.7,397.1 L543.0,395.3 L543.3,399.6 L543.6,394.6 L543.9,398.1 L544.2,396.3 L544.6,400.4 L544.9,396.5 L545.2,398.6 L545.5,397.8 L545.8,399.9 L546.1,397.2 L546.4,399.0 L546.8,397.3 L547.1,399.1 L547.4,398.3 L547.7,399.9 L548.0,398.6 L548.3,400.8 L548.6,398.2 L549.0,400.7 L549.3,398.8 L549.6,401.0 L549.9,398.0 L550.2,400.2 L550.6,398.8 L550.9,400.0 L551.2,398.5 L551.5,400.2 L551.8,398.8 L552.2,399.7 L552.5,398.7 L552.8,401.0 L553.1,400.1 L553.4,402.6 L553.8,400.6 L554.1,402.0 L554.4,400.1 L554.7,401.1 L555.0,397.5 L555.4,399.4 L555.7,396.2 L556.0,399.3 L556.3,395.9 L556.6,398.5 L556.9,394.2 L557.2,397.2 L557.5,393.5 L557.8,396.5 L558.1,391.8 L558.4,394.3 L558.7,391.6 L559.0,394.1 L559.3,391.0 L559.6,391.8 L559.9,390.2 L560.2,394.5 L560.5,392.4 L560.8,395.5 L561.1,393.5 L561.4,396.3 L561.7,394.4 L562.0,397.4 L562.3,396.6 L562.6,398.9 L562.9,395.6 L563.2,397.8 L563.5,395.0 L563.8,398.6 L564.1,395.9 L564.5,398.4 L564.8,395.2 L565.1,398.1 L565.4,394.1 L565.7,396.8 L566.0,394.5 L566.3,396.3 L566.6,393.7 L566.9,395.1 L567.3,393.1 L567.6,395.6 L567.9,393.2 L568.2,396.6 L568.5,394.0 L568.8,395.2 L569.1,393.2 L569.5,395.6 L569.8,393.7 L570.1,394.1 L570.4,391.0 L570.7,393.2 L571.0,390.4 L571.4,391.2 L571.7,389.1 L572.0,390.1 L572.4,387.2 L572.7,389.5 L573.0,387.7 L573.3,387.3 L573.6,385.1 L574.0,385.4 L574.3,380.9 L574.6,381.9 L574.9,378.6 L575.2,384.2 L575.6,383.4 L575.9,389.2 L576.3,388.7 L576.6,390.9 L576.9,391.3 L577.2,394.9 L577.5,393.3 L577.8,395.6 L578.2,393.0 L578.5,396.4 L578.8,394.4 L579.1,396.1 L579.4,394.8 L579.8,397.1 L580.1,394.2 L580.4,397.3 L580.7,394.4 L581.0,396.5 L581.4,395.0 L581.7,397.3 L582.0,394.7 L582.3,398.0 L582.6,394.4 L582.9,396.2 L583.2,394.3 L583.5,396.1 L583.8,392.9 L584.1,395.5 L584.4,392.1 L584.7,394.3 L585.0,391.0 L585.3,394.7 L585.6,392.3 L585.9,395.4 L586.2,393.3 L586.5,394.5 L586.8,392.1 L587.1,393.8 L587.4,391.4 L587.7,393.8 L588.0,390.5 L588.4,391.1 L588.7,388.1 L589.0,391.2 L589.3,388.1 L589.7,390.0 L590.0,388.3 L590.3,389.2 L590.6,386.0 L591.0,387.9 L591.3,386.7 L591.6,389.5 L591.9,387.5 L592.3,388.9 L592.6,385.8 L592.9,388.5 L593.2,385.8 L593.5,388.9 L593.9,386.2 L594.2,388.8 L594.5,385.1 L594.9,388.0 L595.2,387.4 L595.5,388.4 L595.8,386.4 L596.1,389.1 L596.4,387.9 L596.8,389.2 L597.1,387.2 L597.4,390.1 L597.7,386.3 L598.0,389.1 L598.3,385.6 L598.6,386.2 L599.0,384.3 L599.3,385.4 L599.6,383.4 L600.0,382.9 L600.3,380.3 L600.6,382.0 L600.9,375.7 L601.2,372.8 L601.5,367.0 L601.9,365.0 L602.2,358.9 L602.5,357.2 L602.9,360.8 L603.2,369.3 L603.6,373.9 L604.0,379.8 L604.5,381.9 L604.8,382.8 L605.2,381.7 L605.5,382.5 L605.8,380.1 L606.2,383.7 L606.5,381.0 L606.8,383.3 L607.1,381.8 L607.5,383.5 L607.8,382.7 L608.1,384.7 L608.4,384.4 L608.7,386.0 L609.0,384.1 L609.4,385.8 L609.7,384.8 L610.0,386.7 L610.3,385.5 L610.7,387.4 L611.0,387.3 L611.3,388.6 L611.6,385.9 L612.0,388.7 L612.3,386.6 L612.6,386.3 L612.9,382.8 L613.2,384.4 L613.5,378.9 L613.9,378.5 L614.2,374.1 L614.5,374.6 L614.8,370.6 L615.1,367.0 L615.4,360.5 L615.7,357.9 L616.0,351.5 L616.3,348.4 L616.6,341.7 L616.9,352.9 L617.3,358.6 L617.6,370.3 L618.0,374.5 L618.3,380.0 L618.7,384.5 L619.0,385.7 L619.4,383.2 L619.7,384.6 L620.0,381.3 L620.3,380.7 L620.6,378.2 L621.0,378.8 L621.3,376.0 L621.7,365.7 L622.0,351.9 L622.4,342.5 L622.7,327.1 L623.1,313.3 L623.4,297.1 L623.7,294.7 L624.0,291.0 L624.3,291.7 L624.6,285.8 L624.9,285.2 L625.2,281.1 L625.5,287.8 L625.9,293.2 L626.2,301.1 L626.6,310.6 L627.0,323.4 L627.3,332.5 L627.7,344.6 L628.0,354.1 L628.3,364.0 L628.7,369.5 L629.0,379.4 L629.3,378.9 L629.7,380.1 L630.0,378.5 L630.3,381.3 L630.7,378.6 L631.0,380.4 L631.3,378.4 L631.6,380.9 L632.0,379.6 L632.3,381.5 L632.6,380.8 L632.9,381.9 L633.2,380.9 L633.5,381.9 L633.8,379.3 L634.1,380.5 L634.4,377.0 L634.7,378.8 L635.0,376.2 L635.4,377.1 L635.7,374.2 L636.1,376.2 L636.4,372.6 L636.8,372.4 L637.1,362.3 L637.5,358.5 L637.8,351.5 L638.1,344.4 L638.5,334.9 L638.8,329.3 L639.1,336.9 L639.5,347.7 L639.8,354.1 L640.2,362.9 L640.5,367.5 L640.9,375.8 L641.3,372.2 L641.6,373.5 L642.0,371.3 L642.3,372.5 L642.6,369.8 L642.9,371.4 L643.2,369.1 L643.6,360.8 L644.0,349.2 L644.5,334.2 L644.9,332.9 L645.2,335.7 L645.6,335.3 L645.9,332.0 L646.3,325.6 L646.6,323.9 L647.0,315.7 L647.5,311.5 L648.0,305.6 L648.4,304.6 L648.8,311.9 L649.3,322.8 L649.6,328.5 L649.9,337.6 L650.2,343.9 L650.6,351.9 L650.9,356.3 L651.3,363.3 L651.6,365.1 L652.0,372.5 L652.3,374.0 L652.6,371.4 L653.0,362.8 L653.3,357.5 L653.6,348.2 L654.0,344.2 L654.3,335.7 L654.7,326.4 L655.0,312.0 L655.4,301.1 L655.7,288.8 L656.1,280.2 L656.4,266.1 L656.8,279.4 L657.3,289.3 L657.6,299.1 L657.9,305.2 L658.2,312.7 L658.7,319.4 L659.1,327.4 L659.5,332.0 L660.0,339.0 L660.3,336.0 L660.6,337.5 L661.0,335.1 L661.3,335.6 L661.6,341.2 L661.9,352.3 L662.2,358.7 L662.7,371.3 L663.1,379.8 L663.4,381.2 L663.7,380.4 L664.0,383.6 L664.3,382.8 L664.6,385.6 L664.9,384.7 L665.2,387.9 L665.5,385.0 L665.8,387.7 L666.2,384.2 L666.5,386.8 L666.8,383.3 L667.1,387.3 L667.4,385.3 L667.7,387.2 L668.0,383.7 L668.4,387.0 L668.7,384.8 L669.0,386.8 L669.3,383.7 L669.6,386.2 L670.0,384.6 L670.3,386.6 L670.6,386.1 L671.0,388.2 L671.3,387.4 L671.6,389.1 L671.9,386.6 L672.2,388.8 L672.6,386.3 L672.9,388.1 L673.2,386.0 L673.5,388.2 L673.8,385.2 L674.1,387.6 L674.4,386.3 L674.7,387.3 L675.0,384.7 L675.3,386.9 L675.6,384.7 L675.9,386.2 L676.2,385.0 L676.5,386.0 L676.8,383.5 L677.1,386.1 L677.4,383.9 L677.7,387.4 L678.0,385.1 L678.3,387.9 L678.6,385.6 L678.9,387.5 L679.2,384.9 L679.5,387.0 L679.8,383.8 L680.1,385.8 L680.4,383.9 L680.8,386.1 L681.1,382.8 L681.4,385.5 L681.7,382.8 L682.0,384.8 L682.3,383.1 L682.6,385.6 L682.9,383.7 L683.2,386.0 L683.5,384.2 L683.8,388.2 L684.2,384.5 L684.5,386.3 L684.8,384.1 L685.1,385.8 L685.4,383.2 L685.7,384.4 L686.0,383.1 L686.4,386.3 L686.7,385.2 L687.0,387.1 L687.3,385.0 L687.6,388.0 L687.9,386.2 L688.2,388.3 L688.5,384.0 L688.8,386.4 L689.2,385.5 L689.5,386.9 L689.8,385.6 L690.1,386.2 L690.4,385.6 L690.7,386.7 L691.0,384.4 L691.4,380.0 L691.7,371.7 L692.1,367.1 L692.5,354.9 L693.0,348.2 L693.4,356.0 L693.7,368.6 L694.3,385.3" fill="none" stroke="#0c0c0c" stroke-width="2.0" stroke-linejoin="round" />
<path d="M471.0,400.7 L472.0,410.3 L472.6,410.7 L473.2,410.9 L473.8,409.7 L474.5,410.9 L475.1,410.0 L475.7,409.4 L476.3,411.0 L476.9,409.6 L477.5,409.5 L478.2,410.0 L478.8,410.0 L479.4,411.3 L480.0,411.2 L480.6,410.3 L481.2,410.4 L481.9,410.8 L482.5,410.7 L483.1,410.3 L483.8,410.0 L484.4,409.2 L485.0,409.3 L485.6,409.9 L486.2,409.7 L486.9,410.0 L487.5,410.1 L488.1,410.1 L488.8,408.6 L489.4,408.3 L490.0,409.7 L490.6,409.3 L491.2,408.9 L491.8,410.0 L492.5,409.4 L493.1,409.6 L493.7,410.0 L494.3,410.5 L494.9,410.8 L495.5,409.7 L496.1,410.9 L496.8,410.7 L497.4,410.4 L498.0,410.8 L498.6,411.0 L499.2,409.6 L499.9,410.5 L500.5,410.8 L501.1,410.9 L501.7,410.8 L502.3,409.9 L502.9,411.3 L503.5,411.0 L504.2,410.0 L504.8,410.4 L505.4,411.3 L506.0,410.0 L506.6,410.3 L507.2,411.3 L507.9,411.2 L508.5,410.0 L509.1,410.9 L509.7,410.2 L510.3,410.8 L510.9,411.0 L511.6,409.8 L512.2,410.0 L512.8,410.0 L513.4,408.3 L514.0,406.2 L515.0,401.3 L515.7,383.7 L516.5,401.9 L517.2,402.3 L517.9,404.3 L518.6,406.1 L519.3,406.5 L520.0,407.2 L520.6,407.9 L521.2,407.4 L521.8,406.9 L522.4,407.5 L523.0,406.7 L523.6,407.9 L524.2,406.9 L524.8,407.3 L525.5,408.4 L526.1,408.1 L526.7,408.2 L527.3,407.8 L527.9,407.8 L528.5,408.0 L529.1,408.5 L529.7,407.1 L530.3,408.1 L530.9,407.3 L531.5,407.2 L532.1,408.2 L532.7,407.8 L533.3,408.3 L533.9,408.3 L534.5,407.8 L535.2,407.1 L535.8,406.8 L536.4,407.8 L537.0,408.1 L537.6,407.3 L538.2,407.0 L538.8,406.8 L539.4,407.2 L540.0,408.1 L540.6,406.9 L541.2,407.3 L541.8,407.3 L542.4,408.2 L543.0,408.7 L543.6,406.9 L544.2,407.1 L544.8,408.6 L545.5,408.7 L546.1,407.2 L546.7,407.5 L547.3,407.9 L547.9,407.5 L548.5,407.7 L549.1,407.8 L549.7,407.4 L550.3,407.1 L550.9,407.1 L551.5,407.3 L552.1,407.2 L552.7,408.1 L553.3,408.3 L553.9,407.5 L554.5,408.5 L555.2,408.4 L555.8,407.7 L556.4,407.9 L557.0,407.4 L557.6,408.7 L558.2,408.1 L558.8,407.2 L559.4,407.4 L560.0,408.3 L560.6,407.8 L561.2,408.4 L561.8,407.5 L562.4,408.5 L563.0,408.5 L563.6,407.2 L564.2,408.1 L564.8,407.4 L565.5,408.3 L566.1,408.5 L566.7,408.4 L567.3,407.4 L567.9,407.2 L568.5,408.2 L569.1,408.0 L569.7,407.2 L570.3,407.3 L570.9,408.0 L571.5,407.2 L572.1,408.1 L572.7,407.4 L573.3,407.4 L573.9,407.7 L574.5,407.9 L575.2,408.2 L575.8,407.0 L576.4,408.2 L577.0,407.3 L577.6,407.4 L578.2,408.0 L578.8,408.1 L579.4,408.0 L580.0,408.5 L580.6,407.2 L581.2,407.4 L581.8,408.0 L582.4,407.3 L583.0,407.1 L583.6,407.2 L584.2,408.2 L584.8,408.3 L585.5,408.1 L586.1,408.5 L586.7,408.2 L587.3,407.3 L587.9,407.3 L588.5,408.0 L589.1,406.8 L589.7,407.8 L590.3,406.9 L590.9,406.8 L591.5,407.6 L592.1,407.0 L592.7,408.4 L593.3,408.3 L593.9,407.5 L594.5,407.0 L595.2,406.9 L595.8,407.6 L596.4,407.6 L597.0,407.3 L597.6,407.9 L598.2,407.6 L598.8,408.0 L599.4,406.8 L600.0,406.7 L600.6,407.3 L601.2,407.4 L601.8,407.0 L602.4,407.7 L603.0,406.9 L603.6,407.1 L604.2,407.4 L604.8,407.8 L605.5,407.9 L606.1,407.1 L606.7,407.2 L607.3,408.1 L607.9,408.1 L608.5,407.5 L609.1,406.6 L609.7,407.2 L610.3,407.5 L610.9,406.8 L611.5,406.4 L612.1,408.1 L612.7,407.9 L613.3,406.5 L613.9,407.1 L614.5,407.4 L615.2,406.8 L615.8,406.3 L616.4,407.5 L617.0,407.6 L617.6,406.9 L618.2,406.3 L618.8,406.8 L619.4,406.3 L620.0,407.8 L621.0,403.7 L621.6,404.4 L622.2,405.5 L622.9,404.6 L623.5,404.8 L624.1,405.0 L624.8,405.4 L625.4,406.3 L626.0,407.1 L626.6,405.9 L627.2,405.9 L627.8,407.0 L628.4,406.4 L629.0,406.2 L629.7,405.8 L630.3,406.0 L630.9,407.3 L631.5,405.8 L632.1,406.1 L632.7,406.9 L633.3,407.2 L633.9,407.2 L634.5,406.5 L635.1,407.3 L635.7,406.7 L636.3,406.1 L637.0,406.4 L637.6,406.9 L638.2,406.9 L638.8,405.8 L639.4,405.9 L640.0,407.3 L640.6,405.8 L641.2,407.0 L641.8,406.1 L642.4,405.9 L643.0,405.9 L643.6,406.3 L644.2,407.2 L644.9,405.6 L645.5,406.9 L646.1,405.9 L646.7,405.6 L647.3,406.6 L647.9,405.8 L648.5,405.5 L649.1,405.9 L649.7,406.6 L650.3,406.4 L651.0,405.5 L651.6,404.2 L652.2,405.3 L652.9,404.7 L653.5,404.9 L654.1,404.7 L654.7,403.3 L655.4,403.9 L656.0,403.6 L656.6,402.2 L657.2,402.0 L657.8,401.6 L658.4,401.1 L659.0,400.8 L659.6,399.9 L660.2,399.7 L660.8,400.5 L661.4,399.2 L662.0,399.2 L662.6,399.3 L663.2,398.4 L663.9,396.9 L664.5,397.4 L665.2,396.6 L665.8,396.3 L666.4,395.2 L667.1,394.6 L667.7,394.0 L668.4,392.4 L669.0,392.5 L669.9,386.2 L670.8,381.2 L671.8,391.3 L672.9,397.5 L673.5,396.7 L674.2,397.1 L674.8,395.8 L675.5,396.3 L676.1,395.9 L676.8,395.5 L677.6,390.8 L678.5,388.8 L679.2,378.9 L679.9,369.3 L681.0,390.3 L681.9,397.8 L682.5,399.1 L683.2,398.3 L683.8,397.9 L684.5,397.5 L685.1,398.1 L685.8,397.9 L686.4,396.8 L687.1,394.3 L687.8,393.2 L688.4,391.7 L689.0,394.9 L689.6,398.7 L690.3,399.2 L691.0,401.7 L691.7,401.0 L692.3,400.9 L693.0,401.2 L693.6,402.7 L694.3,402.0" fill="none" stroke="#c0183c" stroke-width="2.5" stroke-linejoin="round" />
<path d="M470.6,374.9 L471.0,410.8 L471.5,384.6 L472.0,413.9 L472.6,389.6 L473.2,414.3 L473.8,392.8 L474.4,413.9 L475.0,394.8 L475.6,414.5 L476.4,394.6 L477.2,414.2 L478.0,396.1 L478.8,412.2 L479.6,397.2 L480.4,413.2 L481.4,398.0 L482.4,412.0 L483.4,399.8 L484.4,411.8 L485.1,406.8 L485.8,401.4 L486.5,405.7 L487.2,409.7 L487.8,408.9 L488.4,406.4 L489.0,403.2 L489.7,406.3 L490.3,406.1 L491.0,408.7 L491.6,408.1 L492.2,408.4 L492.9,407.6 L493.5,406.7 L494.1,407.3 L494.8,407.6 L495.4,407.3 L496.0,406.2 L496.6,406.0 L497.2,407.0 L497.8,407.2 L498.4,406.0 L499.0,407.4 L499.7,407.6 L500.3,406.5 L500.9,406.4 L501.5,407.1 L502.1,407.6 L502.7,406.1 L503.3,406.4 L503.9,406.4 L504.5,407.3 L505.1,406.2 L505.7,406.9 L506.3,406.9 L507.0,407.2 L507.6,406.2 L508.2,407.8 L508.8,408.0 L509.4,407.1 L510.0,407.6 L510.6,406.4 L511.2,407.8 L511.8,407.1 L512.4,407.5 L513.0,407.7 L513.6,406.7 L514.2,407.9 L514.8,406.4 L515.4,406.1 L516.0,407.0 L516.6,407.8 L517.2,407.8 L517.8,407.9 L518.4,407.1 L519.0,407.9 L519.6,407.2 L520.2,406.3 L520.8,407.3 L521.4,407.7 L522.0,406.9 L522.7,407.3 L523.3,406.6 L523.9,406.6 L524.5,406.9 L525.1,407.1 L525.7,407.0 L526.3,406.2 L526.9,406.1 L527.5,406.8 L528.1,407.5 L528.7,407.6 L529.3,406.6 L529.9,406.6 L530.5,407.1 L531.1,406.4 L531.7,407.3 L532.3,407.9 L532.9,406.5 L533.5,407.3 L534.1,407.5 L534.7,407.6 L535.3,407.5 L535.9,407.5 L536.5,406.7 L537.1,407.8 L537.7,408.0 L538.3,406.2 L538.9,408.0 L539.5,407.0 L540.1,406.3 L540.7,406.3 L541.3,407.7 L541.9,407.5 L542.5,406.4 L543.1,407.1 L543.7,407.4 L544.3,408.1 L544.9,406.8 L545.5,407.7 L546.1,406.6 L546.7,406.5 L547.3,406.5 L548.0,407.0 L548.6,407.4 L549.2,406.8 L549.8,406.5 L550.4,406.6 L551.0,406.3 L551.6,406.6 L552.2,406.8 L552.8,407.2 L553.4,406.5 L554.0,407.1 L554.6,407.1 L555.2,408.1 L555.8,407.2 L556.4,408.1 L557.0,407.1 L557.6,406.6 L558.2,407.4 L558.8,406.5 L559.4,406.5 L560.0,406.3 L560.6,407.6 L561.2,408.1 L561.8,407.0 L562.4,406.9 L563.0,407.0 L563.7,406.9 L564.3,407.6 L564.9,406.9 L565.5,406.5 L566.1,407.9 L566.7,407.3 L567.3,406.2 L567.9,407.8 L568.5,407.6 L569.1,406.8 L569.7,407.4 L570.3,408.0 L571.0,406.9 L571.6,407.0 L572.2,406.7 L572.8,407.2 L573.4,407.4 L574.0,407.6 L574.6,408.0 L575.2,406.4 L575.8,406.8 L576.4,407.8 L577.0,407.7 L577.7,407.3 L578.3,407.4 L578.9,406.7 L579.5,408.0 L580.1,407.2 L580.7,406.9 L581.3,406.4 L581.9,406.3 L582.5,407.8 L583.1,407.6 L583.7,406.1 L584.3,406.7 L585.0,407.0 L585.6,407.0 L586.2,406.7 L586.8,407.8 L587.4,406.7 L588.0,407.1 L588.7,408.7 L589.3,408.9 L590.0,409.5 L590.6,409.0 L591.2,409.0 L591.9,409.3 L592.5,409.6 L593.1,408.4 L593.8,408.5 L594.4,408.4 L595.0,408.2 L595.6,409.2 L596.2,408.3 L596.9,407.7 L597.5,407.7 L598.1,408.5 L598.8,407.1 L599.4,408.0 L600.0,406.5 L600.6,406.9 L601.2,406.6 L601.8,408.1 L602.4,406.7 L603.0,406.9 L603.6,406.5 L604.2,406.9 L604.8,407.8 L605.5,407.8 L606.1,408.2 L606.7,408.2 L607.3,407.4 L607.9,408.1 L608.5,406.5 L609.1,408.1 L609.7,407.1 L610.3,406.6 L610.9,407.7 L611.5,407.9 L612.1,407.0 L612.7,406.4 L613.3,407.9 L613.9,407.7 L614.5,407.3 L615.2,408.1 L615.8,406.2 L616.4,406.2 L617.0,406.3 L617.6,406.1 L618.2,407.5 L618.8,407.3 L619.4,406.2 L620.0,406.3 L620.6,406.3 L621.2,407.2 L621.8,407.3 L622.4,407.9 L623.0,406.6 L623.6,407.9 L624.2,406.8 L624.8,406.7 L625.5,406.4 L626.1,406.3 L626.7,407.8 L627.3,407.8 L627.9,407.2 L628.5,406.1 L629.1,406.1 L629.7,406.1 L630.3,406.4 L630.9,407.2 L631.5,405.8 L632.1,406.8 L632.7,407.0 L633.3,405.7 L633.9,406.5 L634.5,407.2 L635.2,406.8 L635.8,406.5 L636.4,407.4 L637.0,406.8 L637.6,406.2 L638.2,406.3 L638.8,407.4 L639.4,407.2 L640.0,407.3 L640.6,406.6 L641.3,405.8 L641.9,405.9 L642.5,406.4 L643.2,407.0 L643.8,405.7 L644.5,407.3 L645.1,407.3 L645.7,406.8 L646.4,405.8 L647.0,407.4 L647.6,407.1 L648.2,408.0 L648.8,408.3 L649.4,409.0 L650.0,408.8 L650.6,409.9 L651.2,409.9 L651.8,409.9 L652.4,409.3 L653.0,408.7 L653.6,408.8 L654.2,408.6 L654.8,409.9 L655.4,409.7 L656.0,409.7 L656.6,409.8 L657.2,410.1 L657.8,409.5 L658.4,408.8 L659.0,409.7 L659.6,408.7 L660.2,409.4 L660.8,408.5 L661.4,409.9 L662.0,409.2 L662.6,408.8 L663.2,410.1 L663.8,408.4 L664.4,410.1 L665.0,409.8 L665.6,408.7 L666.2,410.1 L666.9,409.9 L667.5,410.7 L668.1,410.2 L668.8,410.1 L669.4,411.2 L670.0,409.7 L670.6,411.0 L671.2,409.5 L671.9,409.8 L672.5,409.4 L673.1,410.8 L673.8,409.8 L674.4,410.3 L675.0,409.3 L675.6,410.1 L676.2,409.9 L676.9,408.7 L677.5,409.4 L678.1,409.7 L678.8,408.6 L679.4,409.4 L680.0,408.6 L680.6,408.7 L681.2,409.8 L681.8,409.9 L682.4,410.0 L683.0,408.9 L683.7,409.1 L684.3,409.6 L684.9,409.5 L685.5,408.9 L686.1,409.7 L686.7,408.8 L687.3,409.9 L687.9,408.9 L688.5,408.2 L689.1,409.5 L689.7,408.3 L690.3,409.4 L691.0,408.1 L691.6,410.0 L692.2,409.1 L692.8,409.5 L693.4,408.3 L694.0,409.3" fill="none" stroke="#3a3a9a" stroke-width="2.4" stroke-linejoin="round" />
<rect x="468.5" y="260.8" width="229.1" height="169.2" fill="none" stroke="#2b2b2b" stroke-width="1.25"/>
<path d="M470.50,430V427.10M514.81,430V427.10M559.12,430V427.10M603.43,430V427.10M647.74,430V427.10M692.05,430V427.10M492.65,430V427.80M536.97,430V427.80M581.27,430V427.80M625.59,430V427.80M669.89,430V427.80M468.5,385.50H471.40M468.5,326.25H471.40M468.5,267.00H471.40M468.5,415.12H470.70M468.5,355.88H470.70M468.5,296.62H470.70" stroke="#2b2b2b" stroke-width="1.1" fill="none"/>
<text transform="translate(462.3,386.7) scale(0.93,1)" font-size="14.0" text-anchor="end" fill="#2a2a2a" >0.2</text>
<text transform="translate(462.3,327.45) scale(0.93,1)" font-size="14.0" text-anchor="end" fill="#2a2a2a" >0.4</text>
<text transform="translate(462.3,268.2) scale(0.93,1)" font-size="14.0" text-anchor="end" fill="#2a2a2a" >0.6</text>
<text transform="translate(470.5,445) scale(0.93,1)" font-size="14.0" text-anchor="middle" fill="#2a2a2a" word-spacing="-0.8">0</text>
<text transform="translate(514.81,445) scale(0.93,1)" font-size="14.0" text-anchor="middle" fill="#2a2a2a" word-spacing="-0.8">700</text>
<text transform="translate(559.12,445) scale(0.93,1)" font-size="14.0" text-anchor="middle" fill="#2a2a2a" word-spacing="-0.8">1 400</text>
<text transform="translate(603.43,445) scale(0.93,1)" font-size="14.0" text-anchor="middle" fill="#2a2a2a" word-spacing="-0.8">2 100</text>
<text transform="translate(647.74,445) scale(0.93,1)" font-size="14.0" text-anchor="middle" fill="#2a2a2a" word-spacing="-0.8">2 800</text>
<text transform="translate(692.05,445) scale(0.93,1)" font-size="14.0" text-anchor="middle" fill="#2a2a2a" word-spacing="-0.8">3 500</text>
<text transform="translate(428.5,344.5) rotate(-90) scale(0.93,1)" font-size="14.4" text-anchor="middle" fill="#2a2a2a">Friction coefficient</text>
<text transform="translate(594,466.6) scale(0.92,1)" font-size="14.5" text-anchor="middle" fill="#2a2a2a" >Time/s</text>
<text x="598" y="485" font-size="14.2" text-anchor="middle" fill="#2a2a2a" >(d)</text>
<line x1="535.4" y1="278.5" x2="554.4" y2="278.5" stroke="#2a2a2a" stroke-width="1.7"/>
<text x="556.8" y="282.7" font-size="10.2" text-anchor="start" fill="#2a2a2a" >[C<tspan font-size="6.5" dy="2">1</tspan><tspan dy="-2" font-size="0.1"> </tspan>C<tspan font-size="6.5" dy="2">6</tspan><tspan dy="-2" font-size="0.1"> </tspan>Im][PF<tspan font-size="6.5" dy="2">6</tspan><tspan dy="-2" font-size="0.1"> </tspan>]</text>
<line x1="535.4" y1="292.7" x2="554.4" y2="292.7" stroke="#b4606e" stroke-width="1.5"/>
<text x="556.4" y="295.1" font-size="10.2" text-anchor="start" fill="#2a2a2a" >0.5% LMWG3</text>
<line x1="535.4" y1="303.7" x2="554.4" y2="303.7" stroke="#505a72" stroke-width="1.5"/>
<text x="556.4" y="307.9" font-size="10.2" text-anchor="start" fill="#2a2a2a" >2%</text>
<text x="580.6" y="307.9" font-size="10.2" text-anchor="start" fill="#2a2a2a" >LMWG3</text>
</g>
<g id="caption" font-size="13.5" fill="#2a2a2a" stroke="#2a2a2a" stroke-width="0.22">
<text x="13" y="524.8" textLength="22" lengthAdjust="spacing" font-size="14.2">(a)</text>
<text x="43.3" y="524.8" textLength="159.7" lengthAdjust="spacing">离子液体凝胶的触变行为</text>
<text x="206" y="524.8">;</text>
<text x="227" y="524.8" textLength="22" lengthAdjust="spacing" font-size="14.2">(b)</text>
<text x="257" y="524.8" textLength="10" lengthAdjust="spacing" font-size="14.2">1-</text>
<text x="268" y="524.8" textLength="28.7" lengthAdjust="spacing">己基</text>
<text x="297.3" y="524.8" textLength="17.7" lengthAdjust="spacing" font-size="14.2">-3-</text>
<text x="316.7" y="524.8" textLength="138.3" lengthAdjust="spacing">甲基咪唑六氟磷酸盐</text>
<text x="457" y="524.8" textLength="15" lengthAdjust="spacing">([</text>
<text x="476" y="524.8" textLength="50.7" lengthAdjust="spacing" font-size="14.2">C<tspan font-size="8.5" dy="3">1</tspan><tspan dy="-3" font-size="0.1"> </tspan>C<tspan font-size="8.5" dy="3">6</tspan><tspan dy="-3" font-size="0.1"> </tspan>Im</text>
<text x="528" y="524.8" textLength="13" lengthAdjust="spacing">][</text>
<text x="544" y="524.8" textLength="21" lengthAdjust="spacing" font-size="14.2">PF<tspan font-size="8.5" dy="3">6</tspan><tspan dy="-3" font-size="0.1"> </tspan></text>
<text x="568" y="524.8" textLength="10" lengthAdjust="spacing">])</text>
<text x="585" y="524.8" textLength="140.7" lengthAdjust="spacing">及含有不同凝胶因子</text>
<text x="727" y="524.8">(</text>
<text x="736.7" y="524.8" textLength="93.3" lengthAdjust="spacing">质量分数均为</text>
<text x="13" y="543.8" textLength="19" lengthAdjust="spacing" font-size="14.2">5%</text>
<text x="34" y="543.8">)</text>
<text x="43" y="543.8" textLength="242" lengthAdjust="spacing">的离子液体凝胶的摩擦系数随时间的</text>
<text x="286" y="543.8" textLength="60.7" lengthAdjust="spacing">变化曲线</text>
<text x="348" y="543.8">(</text>
<text x="356" y="543.8" textLength="61.3" lengthAdjust="spacing">测试条件</text>
<text x="420" y="543.8">:</text>
<text x="426.7" y="543.8" textLength="140.3" lengthAdjust="spacing">往复摩擦磨损测试仪</text>
<text x="574" y="543.8" textLength="47.7" lengthAdjust="spacing" font-size="14.2">SRV-IV</text>
<text x="623" y="543.8">,</text>
<text x="631.7" y="543.8" textLength="61.6" lengthAdjust="spacing">外加负载</text>
<text x="695.5" y="543.8">:</text>
<text x="701.7" y="543.8" textLength="33.3" lengthAdjust="spacing" font-size="14.2">400 N</text>
<text x="738" y="543.8">;</text>
<text x="745" y="543.8" textLength="30" lengthAdjust="spacing">冲程</text>
<text x="778" y="543.8">:</text>
<text x="786.7" y="543.8" textLength="31.6" lengthAdjust="spacing" font-size="14.2">1 mm</text>
<text x="824" y="543.8">;</text>
<text x="12.7" y="562.9" textLength="30.6" lengthAdjust="spacing">频率</text>
<text x="45" y="562.9">:</text>
<text x="50.7" y="562.9" textLength="32.6" lengthAdjust="spacing" font-size="14.2">25 Hz</text>
<text x="86" y="562.9">;</text>
<text x="95" y="562.9" textLength="30" lengthAdjust="spacing">历时</text>
<text x="126.5" y="562.9">:</text>
<text x="132.3" y="562.9" textLength="41.0" lengthAdjust="spacing" font-size="14.2">30 min</text>
<text x="175" y="562.9">;</text>
<text x="181.7" y="562.9" textLength="30.0" lengthAdjust="spacing">温度</text>
<text x="214" y="562.9">:</text>
<text x="220" y="562.9" textLength="36.7" lengthAdjust="spacing" font-size="14.2">20~80</text>
<text x="263.3" y="562.9">℃</text>
<text x="281" y="562.9">)</text>
<text x="291" y="562.9">;</text>
<text x="300" y="562.9" textLength="20.7" lengthAdjust="spacing" font-size="14.2">(c)</text>
<text x="330" y="562.9" textLength="58.3" lengthAdjust="spacing">真空状态</text>
<text x="390" y="562.9">(</text>
<text x="399.3" y="562.9" textLength="52.4" lengthAdjust="spacing" font-size="14.2">1.0×10<tspan font-size="8.5" dy="-5.2">−6</tspan><tspan dy="5.2" font-size="0.1"> </tspan></text>
<text x="460" y="562.9" textLength="14" lengthAdjust="spacing" font-size="14.2">Pa</text>
<text x="475.5" y="562.9">)</text>
<text x="484" y="562.9" textLength="74.3" lengthAdjust="spacing">及不同温度</text>
<text x="562" y="562.9">(</text>
<text x="573.3" y="562.9" textLength="48.4" lengthAdjust="spacing" font-size="14.2">−50~50</text>
<text x="628.3" y="562.9">℃</text>
<text x="644" y="562.9">)</text>
<text x="655" y="562.9" textLength="45" lengthAdjust="spacing">条件下</text>
<text x="701" y="562.9">,</text>
<text x="708.3" y="562.9" textLength="75.0" lengthAdjust="spacing">质量分数为</text>
<text x="790" y="562.9" font-size="14.2">5</text>
<text x="800.7" y="562.9" textLength="12.6" lengthAdjust="spacing" font-size="14.2">%</text>
<text x="816.7" y="562.9">的</text>
<text x="12.7" y="581.9" textLength="60.0" lengthAdjust="spacing">凝胶因子</text>
<text x="77.3" y="581.9" font-size="14.2">2</text>
<text x="84" y="581.9">(</text>
<text x="91.7" y="581.9" textLength="55.0" lengthAdjust="spacing" font-size="14.2">LMWG2</text>
<text x="148.5" y="581.9">)</text>
<text x="157.3" y="581.9" textLength="72.7" lengthAdjust="spacing">在离子液体</text>
<text x="232.5" y="581.9">[</text>
<text x="241.7" y="581.9" textLength="46.6" lengthAdjust="spacing" font-size="14.2">C<tspan font-size="8.5" dy="3">1</tspan><tspan dy="-3" font-size="0.1"> </tspan>C<tspan font-size="8.5" dy="3">6</tspan><tspan dy="-3" font-size="0.1"> </tspan>Im</text>
<text x="290" y="581.9">]</text>
<text x="302" y="581.9">[</text>
<text x="310.7" y="581.9" textLength="22.6" lengthAdjust="spacing" font-size="14.2">PF<tspan font-size="8.5" dy="3">6</tspan><tspan dy="-3" font-size="0.1"> </tspan></text>
<text x="335" y="581.9">]</text>
<text x="344" y="581.9" textLength="194.3" lengthAdjust="spacing">中构筑的离子液体凝胶在施以</text>
<text x="549.3" y="581.9" font-size="14.2">3</text>
<text x="562.7" y="581.9" textLength="9.0" lengthAdjust="spacing" font-size="14.2">N</text>
<text x="580" y="581.9" textLength="250" lengthAdjust="spacing">外力下的摩擦系数随时间的变化曲线</text>
<text x="13" y="600.9">(</text>
<text x="21.7" y="600.9" textLength="261.3" lengthAdjust="spacing">摩擦磨损测试是由钢球在圆柱形钢块上</text>
<text x="285" y="600.9" textLength="28.3" lengthAdjust="spacing">完成</text>
<text x="314" y="600.9">,</text>
<text x="321.7" y="600.9" textLength="29.0" lengthAdjust="spacing">负载</text>
<text x="352.5" y="600.9">:</text>
<text x="358.3" y="600.9" textLength="21.7" lengthAdjust="spacing" font-size="14.2">3 N</text>
<text x="382.5" y="600.9">;</text>
<text x="390.7" y="600.9" textLength="29.3" lengthAdjust="spacing">转速</text>
<text x="422.5" y="600.9">:</text>
<text x="435" y="600.9" textLength="61.7" lengthAdjust="spacing" font-size="14.2">300 r/min</text>
<text x="498.5" y="600.9">;</text>
<text x="506.7" y="600.9" textLength="30.0" lengthAdjust="spacing">历时</text>
<text x="538.5" y="600.9">:</text>
<text x="545" y="600.9" textLength="43.3" lengthAdjust="spacing" font-size="14.2">60 min</text>
<text x="589.5" y="600.9">)</text>
<text x="598" y="600.9">;</text>
<text x="610" y="600.9" textLength="21.7" lengthAdjust="spacing" font-size="14.2">(d)</text>
<text x="641.7" y="600.9" textLength="75.0" lengthAdjust="spacing">纯离子液体</text>
<text x="720.5" y="600.9">[</text>
<text x="730" y="600.9" textLength="48.3" lengthAdjust="spacing" font-size="14.2">C<tspan font-size="8.5" dy="3">1</tspan><tspan dy="-3" font-size="0.1"> </tspan>C<tspan font-size="8.5" dy="3">6</tspan><tspan dy="-3" font-size="0.1"> </tspan>Im</text>
<text x="780" y="600.9">]</text>
<text x="790.5" y="600.9">[</text>
<text x="799.3" y="600.9" textLength="24.0" lengthAdjust="spacing" font-size="14.2">PF<tspan font-size="8.5" dy="3">6</tspan><tspan dy="-3" font-size="0.1"> </tspan></text>
<text x="825.5" y="600.9">]</text>
<text x="12.7" y="619.9" textLength="134.0" lengthAdjust="spacing">及添加不同质量分数</text>
<text x="148.5" y="619.9">(</text>
<text x="156.7" y="619.9" textLength="33.3" lengthAdjust="spacing" font-size="14.2">0.5%</text>
<text x="192.7" y="619.9">和</text>
<text x="213.3" y="619.9" textLength="20.0" lengthAdjust="spacing" font-size="14.2">2%</text>
<text x="236" y="619.9">)</text>
<text x="245" y="619.9" textLength="71.7" lengthAdjust="spacing">的凝胶因子</text>
<text x="323.3" y="619.9" font-size="14.2">3</text>
<text x="330.5" y="619.9">(</text>
<text x="339.3" y="619.9" textLength="55.7" lengthAdjust="spacing" font-size="14.2">LMWG3</text>
<text x="396" y="619.9">)</text>
<text x="405" y="619.9" textLength="146.7" lengthAdjust="spacing">构成的离子液体凝胶的</text>
<text x="553" y="619.9" textLength="188.7" lengthAdjust="spacing">摩擦系数随时间的变化曲线</text>
<text x="743.5" y="619.9">(</text>
<text x="753.3" y="619.9" textLength="76.7" lengthAdjust="spacing">摩擦磨损测</text>
<text x="12.7" y="639.0" textLength="212.3" lengthAdjust="spacing">试是由钢球在圆柱形钢块上完成</text>
<text x="225.5" y="639.0">,</text>
<text x="233.3" y="639.0" textLength="30.0" lengthAdjust="spacing">负载</text>
<text x="265" y="639.0">:</text>
<text x="271.7" y="639.0" textLength="23.3" lengthAdjust="spacing" font-size="14.2">3 N</text>
<text x="296.5" y="639.0">;</text>
<text x="303.3" y="639.0" textLength="30.0" lengthAdjust="spacing">转速</text>
<text x="335.5" y="639.0">:</text>
<text x="346.7" y="639.0" textLength="61.6" lengthAdjust="spacing" font-size="14.2">300 r/min</text>
<text x="409" y="639.0">;</text>
<text x="416.7" y="639.0" textLength="30.0" lengthAdjust="spacing">历时</text>
<text x="448.5" y="639.0">:</text>
<text x="454" y="639.0" textLength="39.3" lengthAdjust="spacing" font-size="14.2">60 min</text>
<text x="495.5" y="639.0">;</text>
<text x="504" y="639.0" textLength="29.3" lengthAdjust="spacing">温度</text>
<text x="535.5" y="639.0">:</text>
<text x="541.7" y="639.0" textLength="11.6" lengthAdjust="spacing" font-size="14.2">20</text>
<text x="559" y="639.0">℃</text>
<text x="576" y="639.0">;</text>
<text x="588.3" y="639.0" textLength="43.4" lengthAdjust="spacing">真空度</text>
<text x="633.5" y="639.0">:</text>
<text x="641.7" y="639.0" textLength="48.3" lengthAdjust="spacing" font-size="14.2">1.0×10<tspan font-size="8.5" dy="-5.2">−6</tspan><tspan dy="5.2" font-size="0.1"> </tspan></text>
<text x="698.3" y="639.0" textLength="11.7" lengthAdjust="spacing" font-size="14.2">Pa</text>
<text x="711.5" y="639.0">;</text>
<text x="720" y="639.0" textLength="30" lengthAdjust="spacing">历时</text>
<text x="751.5" y="639.0">:</text>
<text x="761.7" y="639.0" textLength="48.3" lengthAdjust="spacing" font-size="14.2">150 min</text>
<text x="811.5" y="639.0">;</text>
<text x="818.3" y="639.0">原</text>
<text x="12.7" y="658.0" textLength="44.0" lengthAdjust="spacing">子通量</text>
<text x="57.5" y="658.0">:</text>
<text x="65" y="658.0" textLength="52.3" lengthAdjust="spacing" font-size="14.2">7.0×10<tspan font-size="8.5" dy="-5.2">15</tspan><tspan dy="5.2" font-size="0.1"> </tspan></text>
<text x="120.7" y="658.0" textLength="27.6" lengthAdjust="spacing" font-size="14.2">cm<tspan font-size="8.5" dy="-5.2">−2</tspan><tspan dy="5.2" font-size="0.1"> </tspan></text>
<text x="157" y="658.0">·</text>
<text x="166.7" y="658.0" textLength="16.0" lengthAdjust="spacing" font-size="14.2">s<tspan font-size="8.5" dy="-5.2">−1</tspan><tspan dy="5.2" font-size="0.1"> </tspan></text>
<text x="185" y="658.0">)</text>
<text x="193.3" y="658.0">。</text>
</g>
<text x="499.5" y="656.3" font-family='"Liberation Sans","Noto Sans CJK SC",sans-serif' font-size="48.6" fill="#0c0cff" textLength="338" lengthAdjust="spacingAndGlyphs">www.ilschem.cn</text>
</svg>
</body></html>
